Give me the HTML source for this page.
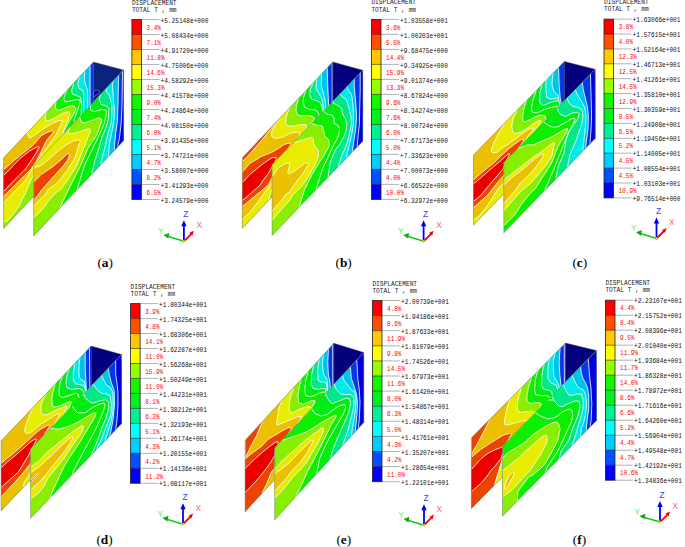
<!DOCTYPE html><html><head><meta charset="utf-8"><style>html,body{margin:0;padding:0;background:#fff;width:685px;height:547px;overflow:hidden}svg{position:absolute;left:0;top:0;display:block}.m{font-family:"Liberation Mono",monospace}.s{font-family:"Liberation Serif",serif}</style></head><body>
<svg width="685" height="547" viewBox="0 0 685 547">
<defs><clipPath id="cab"><polygon points="3.6,158 93.5,62 93.5,132.4 3.6,228.4"/></clipPath><clipPath id="caf"><polygon points="33.7,165.5 123.6,70 123.6,140.5 33.7,236"/></clipPath><clipPath id="cbb"><polygon points="242.4,157.8 332.9,61.9 332.9,132.4 242.4,228.3"/></clipPath><clipPath id="cbf"><polygon points="272.1,164.8 362.8,70.2 362.8,141 272.1,235.6"/></clipPath><clipPath id="ccb"><polygon points="473.5,155.1 564.4,61.4 564.4,131.4 473.5,225.1"/></clipPath><clipPath id="ccf"><polygon points="503.8,162.7 595.2,69.3 595.2,138.2 503.8,233"/></clipPath><clipPath id="cdb"><polygon points="1.1,441 91.3,346.1 91.3,415.9 1.1,510.8"/></clipPath><clipPath id="cdf"><polygon points="30.6,449 121.6,354.5 121.6,423.5 30.6,518.3"/></clipPath><clipPath id="ceb"><polygon points="245.1,440.5 334,343.3 334,415.8 245.1,511.7"/></clipPath><clipPath id="cef"><polygon points="274.7,447.9 363.8,352.4 363.8,422.3 274.7,519.9"/></clipPath><clipPath id="cfb"><polygon points="471.4,438 565.6,343 565.6,413.4 471.4,508.4"/></clipPath><clipPath id="cff"><polygon points="502.5,446 596.5,350.6 596.5,420.4 502.5,516.3"/></clipPath></defs>
<g clip-path="url(#cab)">
<polygon points="3.6,158 93.5,62 93.5,132.4 3.6,228.4" fill="#0EEE00"/>
<polygon points="-5,240 -5,90 56,90 56,101.3 55.4,106.4 56,109.6 59.2,110.2 65.6,107.7 70.7,105.8 73.4,105.8 75.6,107.5 76,109.5 74,113.5 71,118.5 68,123.5 65,129 55,150 45,175 35,240" fill="#8AEE00" stroke="#fff" stroke-width="0.85" stroke-opacity="0.95"/>
<polygon points="-5,235 -5,95 46.4,95 46.4,112.8 45.1,116.6 45.8,121.1 49.6,120.5 56,117.3 62.4,113.4 66.9,111.8 69.4,112.2 70.1,114.1 68.2,119.2 65.6,125.6 63.7,130.7 62.4,135 50,150 40,163 33,176 28.8,185 25,194.2 22.2,199 19.7,205 14.8,212.1 7.4,221.2 3.7,221.5 -5,222" fill="#E8EC00" stroke="#fff" stroke-width="0.85" stroke-opacity="0.95"/>
<polygon points="-5,212 -5,110 27.5,110 27.5,133 28.5,137.3 30.5,138 32.3,136.6 39.6,131.4 46.4,126.9 52.8,123 59.2,120.5 62.4,120.5 61.8,123 58.5,129.5 55.5,135.5 52,140.5 47,147.5 40,157 33,167 25,181 14,192 3.7,203 -5,212" fill="#EBC000" stroke="#fff" stroke-width="0.85" stroke-opacity="0.95"/>
<polygon points="-5,162 3.7,169.4 5.8,168 14.6,160 21.9,154.1 29.3,148.3 34.4,143.9 38,139.5 41.1,135.8 46.9,132.5 51,131 52.8,130.8 53.5,131.8 52.8,133 49.1,137.3 46.9,140 41,152 36,162 31,169 25,175.2 14,186.2 3.7,196.4 -5,205" fill="#EA4400" stroke="#fff" stroke-width="0.85" stroke-opacity="0.95"/>
<polygon points="-5,168 3.7,175.2 9.4,170 13,165.8 20,158.5 29.3,151.2 35,148 38.5,146.5 39.3,147.3 37.5,150 36.6,152 32.2,159.2 27,166.6 25,169.4 14,180.5 3.7,191.3 -5,200" fill="#EB0000" stroke="#fff" stroke-width="0.85" stroke-opacity="0.95"/>
<polygon points="67,50 67,90.5 64.6,95.6 63.9,99.3 65.4,102 71.9,100.5 77.8,99.5 79.8,100 80.2,102 79,106 77,112 74,120 80,140 100,140 100,50" fill="#00EC14" stroke="#fff" stroke-width="0.85" stroke-opacity="0.95"/>
<polygon points="73.3,50 73.3,85.1 71.6,90.9 72.5,94.2 77.4,95.8 80.5,97.4 81.5,103 81.3,112 80,125 100,125 100,50" fill="#00E887" stroke="#fff" stroke-width="0.85" stroke-opacity="0.95"/>
<polygon points="79,50 79,78.5 77.8,84.3 79,88.4 82.3,90 83.6,93.3 83.6,103 83.6,112 83,120 100,120 100,50" fill="#00EBE8" stroke="#fff" stroke-width="0.85" stroke-opacity="0.95"/>
<polygon points="84.8,50 84.8,70.3 84.4,78.5 84.8,82.7 87.3,89.2 87.7,95 87.7,110 100,110 100,50" fill="#00C2EB" stroke="#fff" stroke-width="0.85" stroke-opacity="0.95"/>
<polygon points="90.1,50 90.1,66 90.1,110 100,110 100,50" fill="#0438E8" stroke="#fff" stroke-width="0.85" stroke-opacity="0.95"/>
</g>
<polygon points="3.6,158 93.5,62 93.5,132.4 3.6,228.4" fill="none" stroke="#808590" stroke-width="0.55"/>
<polygon points="93.5,62 123.6,70 93.5,102" fill="#0B237D" stroke="#556" stroke-width="0.4"/>
<path d="M93.5,97 L93.5,92 Q94.5,89.5 97,90 Q99.5,90.5 100,92.5 Z" fill="#000490" stroke="#aab" stroke-width="0.5"/>
<g clip-path="url(#caf)">
<polygon points="33.7,165.5 123.6,70 123.6,140.5 33.7,236" fill="#0EEE00"/>
<polygon points="70,100 79.4,116.2 81.6,122.1 84.5,122.8 93.3,119.9 99.1,117.7 101.3,119.1 101.7,121.3 99.9,126.4 96.9,135 92,142 88.2,147.7 80.6,165.6 71.6,183.5 65.2,196.3 60.1,207.8 58,215 50,250 20,250 20,100" fill="#8AEE00" stroke="#fff" stroke-width="0.85" stroke-opacity="0.95"/>
<polygon points="20,240 20,120 60,118 70,127 68.4,131 69.1,133.9 74.3,133.2 80.1,131.7 86,129.4 89.5,128.8 90.6,131 88.5,136 84.4,146.4 76.7,165.6 67.8,179.6 61.4,188.6 53.6,195 48.3,201 44,207.3 38.2,213.9 33.7,217.2 20,225" fill="#E8EC00" stroke="#fff" stroke-width="0.85" stroke-opacity="0.95"/>
<polygon points="20,160 33.7,168.4 41,165.5 48,160 52,156.5 59.6,149.8 66.9,144.5 74.3,140.5 78.7,139.8 80.5,141.5 78.7,145 76.4,153.6 74.2,159.2 67.8,169.4 58.8,181 55,184.8 48.3,189.3 44.8,195 38.8,200.5 33.7,206.5 20,212" fill="#EBC000" stroke="#fff" stroke-width="0.85" stroke-opacity="0.95"/>
<polygon points="20,180 33.7,182 41,174.6 52,167.3 60,160.7 63,158 66,155 68.4,152.9 69.3,154.5 69,157 67.7,160 64,165 60,169.5 52,178.3 41,190.7 38.2,195 33.7,199.9 20,205" fill="#EA4400" stroke="#fff" stroke-width="0.85" stroke-opacity="0.95"/>
<polygon points="90.4,50 90.4,106 90.9,110.2 93.8,111.7 101.8,109.5 106.2,110.2 106.2,115.3 104,124.1 99.6,134.3 94.5,144.6 93,148 88.5,157 84.4,165.6 77.4,188.6 76,195 76,240 140,240 140,50" fill="#00EC14" stroke="#fff" stroke-width="0.85" stroke-opacity="0.95"/>
<polygon points="101.1,50 101.1,93.7 99.1,99.1 101.1,104.5 106.5,105.9 108.8,108.3 108.4,119 106.2,127 101.8,137.3 98.9,148 95,160 92,172 92,240 140,240 140,50" fill="#00E887" stroke="#fff" stroke-width="0.85" stroke-opacity="0.95"/>
<polygon points="107.9,50 107.9,84.2 105.9,91 109.2,95 111,101 112,108 111.3,122.6 108.4,132.1 104.7,148 101,162 101,240 140,240 140,50" fill="#00EBE8" stroke="#fff" stroke-width="0.85" stroke-opacity="0.95"/>
<polygon points="113.5,50 113.5,77 112.4,85.6 113,92.4 113.5,101.8 114.5,108 114,119 112.6,128.5 109.9,140.9 109.1,148 108,160 108,240 140,240 140,50" fill="#00C2EB" stroke="#fff" stroke-width="0.85" stroke-opacity="0.95"/>
<polygon points="118.7,50 118.7,74 118.3,90 117.9,108 117.2,122.6 115.7,133.6 114.3,148 114,240 140,240 140,50" fill="#0438E8" stroke="#fff" stroke-width="0.85" stroke-opacity="0.95"/>
<polygon points="122.5,50 122.5,72 122.3,90 121.9,108 121.2,122.6 119.4,138.7 117.9,144.6 117,240 140,240 140,50" fill="#0000DC" stroke="#fff" stroke-width="0.85" stroke-opacity="0.95"/>
</g>
<polygon points="33.7,165.5 123.6,70 123.6,140.5 33.7,236" fill="none" stroke="#808590" stroke-width="0.55"/>
<text class="m" x="131.9" y="4.5" font-size="6.6" fill="#1a1a1a" textLength="44.7" lengthAdjust="spacingAndGlyphs">DISPLACEMENT</text>
<text class="m" x="131.9" y="11.7" font-size="6.6" fill="#1a1a1a" textLength="44.7" lengthAdjust="spacingAndGlyphs">TOTAL T , mm</text>
<rect x="131.9" y="19.5" width="9.6" height="15" fill="#FF0000"/>
<rect x="131.9" y="34.5" width="9.6" height="15" fill="#FF5000"/>
<rect x="131.9" y="49.5" width="9.6" height="15" fill="#FFC800"/>
<rect x="131.9" y="64.5" width="9.6" height="15" fill="#FFFF00"/>
<rect x="131.9" y="79.5" width="9.6" height="15" fill="#96FF00"/>
<rect x="131.9" y="94.5" width="9.6" height="15" fill="#14F500"/>
<rect x="131.9" y="109.5" width="9.6" height="15" fill="#00F020"/>
<rect x="131.9" y="124.5" width="9.6" height="15" fill="#00F096"/>
<rect x="131.9" y="139.5" width="9.6" height="15" fill="#00FFFF"/>
<rect x="131.9" y="154.5" width="9.6" height="15" fill="#00CDFF"/>
<rect x="131.9" y="169.5" width="9.6" height="15" fill="#0050FF"/>
<rect x="131.9" y="184.5" width="9.6" height="15" fill="#0000FF"/>
<line x1="141.5" y1="19.5" x2="159.5" y2="19.5" stroke="#aaa" stroke-width="0.9"/>
<text class="m" x="160.5" y="22.6" font-size="6.6" fill="#111" textLength="47.9" lengthAdjust="spacingAndGlyphs">+5.25148e+000</text>
<line x1="141.5" y1="34.5" x2="159.5" y2="34.5" stroke="#aaa" stroke-width="0.9"/>
<line x1="131.9" y1="34.5" x2="141.5" y2="34.5" stroke="#300" stroke-width="0.8" stroke-opacity="0.7"/>
<text class="m" x="160.5" y="37.6" font-size="6.6" fill="#111" textLength="47.9" lengthAdjust="spacingAndGlyphs">+5.08434e+000</text>
<line x1="141.5" y1="49.5" x2="159.5" y2="49.5" stroke="#aaa" stroke-width="0.9"/>
<line x1="131.9" y1="49.5" x2="141.5" y2="49.5" stroke="#300" stroke-width="0.8" stroke-opacity="0.7"/>
<text class="m" x="160.5" y="52.6" font-size="6.6" fill="#111" textLength="47.9" lengthAdjust="spacingAndGlyphs">+4.91720e+000</text>
<line x1="141.5" y1="64.5" x2="159.5" y2="64.5" stroke="#aaa" stroke-width="0.9"/>
<line x1="131.9" y1="64.5" x2="141.5" y2="64.5" stroke="#300" stroke-width="0.8" stroke-opacity="0.7"/>
<text class="m" x="160.5" y="67.6" font-size="6.6" fill="#111" textLength="47.9" lengthAdjust="spacingAndGlyphs">+4.75006e+000</text>
<line x1="141.5" y1="79.5" x2="159.5" y2="79.5" stroke="#aaa" stroke-width="0.9"/>
<line x1="131.9" y1="79.5" x2="141.5" y2="79.5" stroke="#300" stroke-width="0.8" stroke-opacity="0.7"/>
<text class="m" x="160.5" y="82.6" font-size="6.6" fill="#111" textLength="47.9" lengthAdjust="spacingAndGlyphs">+4.58292e+000</text>
<line x1="141.5" y1="94.5" x2="159.5" y2="94.5" stroke="#aaa" stroke-width="0.9"/>
<line x1="131.9" y1="94.5" x2="141.5" y2="94.5" stroke="#300" stroke-width="0.8" stroke-opacity="0.7"/>
<text class="m" x="160.5" y="97.6" font-size="6.6" fill="#111" textLength="47.9" lengthAdjust="spacingAndGlyphs">+4.41578e+000</text>
<line x1="141.5" y1="109.5" x2="159.5" y2="109.5" stroke="#aaa" stroke-width="0.9"/>
<line x1="131.9" y1="109.5" x2="141.5" y2="109.5" stroke="#300" stroke-width="0.8" stroke-opacity="0.7"/>
<text class="m" x="160.5" y="112.6" font-size="6.6" fill="#111" textLength="47.9" lengthAdjust="spacingAndGlyphs">+4.24864e+000</text>
<line x1="141.5" y1="124.5" x2="159.5" y2="124.5" stroke="#aaa" stroke-width="0.9"/>
<line x1="131.9" y1="124.5" x2="141.5" y2="124.5" stroke="#300" stroke-width="0.8" stroke-opacity="0.7"/>
<text class="m" x="160.5" y="127.6" font-size="6.6" fill="#111" textLength="47.9" lengthAdjust="spacingAndGlyphs">+4.08150e+000</text>
<line x1="141.5" y1="139.5" x2="159.5" y2="139.5" stroke="#aaa" stroke-width="0.9"/>
<line x1="131.9" y1="139.5" x2="141.5" y2="139.5" stroke="#300" stroke-width="0.8" stroke-opacity="0.7"/>
<text class="m" x="160.5" y="142.6" font-size="6.6" fill="#111" textLength="47.9" lengthAdjust="spacingAndGlyphs">+3.91435e+000</text>
<line x1="141.5" y1="154.5" x2="159.5" y2="154.5" stroke="#aaa" stroke-width="0.9"/>
<line x1="131.9" y1="154.5" x2="141.5" y2="154.5" stroke="#300" stroke-width="0.8" stroke-opacity="0.7"/>
<text class="m" x="160.5" y="157.6" font-size="6.6" fill="#111" textLength="47.9" lengthAdjust="spacingAndGlyphs">+3.74721e+000</text>
<line x1="141.5" y1="169.5" x2="159.5" y2="169.5" stroke="#aaa" stroke-width="0.9"/>
<line x1="131.9" y1="169.5" x2="141.5" y2="169.5" stroke="#300" stroke-width="0.8" stroke-opacity="0.7"/>
<text class="m" x="160.5" y="172.6" font-size="6.6" fill="#111" textLength="47.9" lengthAdjust="spacingAndGlyphs">+3.58007e+000</text>
<line x1="141.5" y1="184.5" x2="159.5" y2="184.5" stroke="#aaa" stroke-width="0.9"/>
<line x1="131.9" y1="184.5" x2="141.5" y2="184.5" stroke="#300" stroke-width="0.8" stroke-opacity="0.7"/>
<text class="m" x="160.5" y="187.6" font-size="6.6" fill="#111" textLength="47.9" lengthAdjust="spacingAndGlyphs">+3.41293e+000</text>
<line x1="141.5" y1="199.5" x2="159.5" y2="199.5" stroke="#aaa" stroke-width="0.9"/>
<text class="m" x="160.5" y="202.6" font-size="6.6" fill="#111" textLength="47.9" lengthAdjust="spacingAndGlyphs">+3.24579e+000</text>
<text class="m" x="146.6" y="29.7" font-size="6.6" fill="#f00" textLength="14.3" lengthAdjust="spacingAndGlyphs">3.4%</text>
<text class="m" x="146.6" y="44.7" font-size="6.6" fill="#f00" textLength="14.3" lengthAdjust="spacingAndGlyphs">7.1%</text>
<text class="m" x="146.6" y="59.7" font-size="6.6" fill="#f00" textLength="17.9" lengthAdjust="spacingAndGlyphs">11.8%</text>
<text class="m" x="146.6" y="74.7" font-size="6.6" fill="#f00" textLength="17.9" lengthAdjust="spacingAndGlyphs">14.6%</text>
<text class="m" x="146.6" y="89.7" font-size="6.6" fill="#f00" textLength="17.9" lengthAdjust="spacingAndGlyphs">15.3%</text>
<text class="m" x="146.6" y="104.7" font-size="6.6" fill="#f00" textLength="14.3" lengthAdjust="spacingAndGlyphs">9.0%</text>
<text class="m" x="146.6" y="119.7" font-size="6.6" fill="#f00" textLength="14.3" lengthAdjust="spacingAndGlyphs">7.4%</text>
<text class="m" x="146.6" y="134.7" font-size="6.6" fill="#f00" textLength="14.3" lengthAdjust="spacingAndGlyphs">6.0%</text>
<text class="m" x="146.6" y="149.7" font-size="6.6" fill="#f00" textLength="14.3" lengthAdjust="spacingAndGlyphs">5.1%</text>
<text class="m" x="146.6" y="164.7" font-size="6.6" fill="#f00" textLength="14.3" lengthAdjust="spacingAndGlyphs">4.7%</text>
<text class="m" x="146.6" y="179.7" font-size="6.6" fill="#f00" textLength="14.3" lengthAdjust="spacingAndGlyphs">8.2%</text>
<text class="m" x="146.6" y="194.7" font-size="6.6" fill="#f00" textLength="14.3" lengthAdjust="spacingAndGlyphs">6.5%</text>
<rect x="131.9" y="19.5" width="9.6" height="180" fill="none" stroke="#222" stroke-width="0.8"/>
<g stroke-linecap="round">
<line x1="183.9" y1="241.3" x2="166.9" y2="236.1" stroke="#1c1" stroke-width="1.6"/>
<polygon points="163.4,235.1 169.4,232.9 168.3,238.5" fill="#1a1"/>
<line x1="183.9" y1="241.3" x2="183.9" y2="225.3" stroke="#00f" stroke-width="1.8"/>
<polygon points="183.9,220.3 181.2,226.3 186.6,226.3" fill="#00e"/>
<line x1="183.9" y1="241.3" x2="191.4" y2="233.8" stroke="#f00" stroke-width="1.8"/>
<polygon points="193.9,230.7 189.4,232.8 192.4,235.7" fill="#f00"/>
<circle cx="183.9" cy="241.3" r="1.3" fill="#dd0"/>
</g>
<text x="183.3" y="216.8" font-family="Liberation Sans" font-size="8.3" fill="#3344ee">Z</text>
<text x="196.5" y="227.9" font-family="Liberation Sans" font-size="8.3" fill="#ff6666">X</text>
<text x="158.3" y="234.1" font-family="Liberation Sans" font-size="8.3" fill="#66ee66">Y</text>
<text class="s" x="97.4" y="266.9" font-size="13.3" fill="#000">(<tspan font-weight="bold">a</tspan>)</text>
<g clip-path="url(#cbb)">
<polygon points="242.4,157.8 332.9,61.9 332.9,132.4 242.4,228.3" fill="#0EEE00"/>
<polygon points="230,240 230,90 298.5,90 298.5,98.5 296.5,105.8 296,111 297.5,114.5 300.2,116 305,115.5 309.6,115.5 313,116.5 314.5,118.5 313,121 300,140 285,170 270,240" fill="#8AEE00" stroke="#fff" stroke-width="0.85" stroke-opacity="0.95"/>
<polygon points="230,240 230,95 289.2,95 289.2,108.5 286.3,117.3 285.6,123.2 287.7,126.1 293.6,126.1 300.9,124.6 306,124.6 306.8,126.8 304.6,131.2 299.4,139.3 295.1,146.6 292.1,150 280,170 270,195 260,240" fill="#E8EC00" stroke="#fff" stroke-width="0.85" stroke-opacity="0.95"/>
<polygon points="230,100 280,100 280,118 275.3,124.6 271.7,131.9 271.7,136.3 275.3,138.5 282.6,137.1 289.9,133.4 297.3,131.9 300.2,134.1 297.3,139.3 293.6,144.4 289.9,150 281,165 271.9,183 265,192 258,202 250,212 242.4,219.5 230,225" fill="#EBC000" stroke="#fff" stroke-width="0.85" stroke-opacity="0.95"/>
<polygon points="230,150 242.4,157.8 242.4,161.7 250,153.5 258,144.5 265,136 271,128.5 275,123 275,110 230,110" fill="#EA4400" stroke="#fff" stroke-width="0.85" stroke-opacity="0.95"/>
<polygon points="230,175 242.4,172 250,163.3 261,156.7 271.9,152.3 279.3,147.9 284,144.5 289.9,142.9 290.8,144.2 288,148.5 282,158 276,170 271.9,178 268.3,185 255,196 242.4,206.5 230,215" fill="#EA4400" stroke="#fff" stroke-width="0.85" stroke-opacity="0.95"/>
<polygon points="230,190 242.4,182.5 250,174.3 257.3,168.4 264.6,162.6 271.9,157.8 276,157.5 276.5,158.5 274.9,161.8 271.9,167 268.3,173.5 263.2,180.1 260.2,185 250,194 242.4,200.5 230,210" fill="#EB0000" stroke="#fff" stroke-width="0.85" stroke-opacity="0.95"/>
<polygon points="306,60 306,90.4 303.8,96.3 303,102.1 304.5,107.3 309.6,109.4 316.2,110.2 318.4,113.1 319.5,117 320,140 340,140 340,60" fill="#00EC14" stroke="#fff" stroke-width="0.85" stroke-opacity="0.95"/>
<polygon points="314,60 314,81.7 310.4,89 309.6,94.8 311.8,99.2 316.9,100.7 320.6,102.9 322.1,107.3 323,111 323.5,130 340,130 340,60" fill="#00E887" stroke="#fff" stroke-width="0.85" stroke-opacity="0.95"/>
<polygon points="317,60 317,78.5 316.2,83.9 316.2,89 318.4,92.6 320.6,96.3 322.1,99.9 323.5,107.3 324.5,112 325,130 340,130 340,60" fill="#00EBE8" stroke="#fff" stroke-width="0.85" stroke-opacity="0.95"/>
<polygon points="321.5,60 321.5,74 321.3,85.3 323,92 325,99.9 325.7,105.8 326,112 340,112 340,60" fill="#00C2EB" stroke="#fff" stroke-width="0.85" stroke-opacity="0.95"/>
<polygon points="327.3,50 327.3,70 327.6,80 327.9,89 328.4,100 328.6,108 340,108 340,50" fill="#0438E8" stroke="#fff" stroke-width="0.85" stroke-opacity="0.95"/>
<polygon points="332.2,50 332.2,110 340,110 340,50" fill="#0000DC" stroke="#fff" stroke-width="0.85" stroke-opacity="0.95"/>
</g>
<polygon points="242.4,157.8 332.9,61.9 332.9,132.4 242.4,228.3" fill="none" stroke="#808590" stroke-width="0.55"/>
<polygon points="332.9,61.9 362.8,70.2 332.9,101.4" fill="#05007E" stroke="#556" stroke-width="0.4"/>
<g clip-path="url(#cbf)">
<polygon points="272.1,164.8 362.8,70.2 362.8,141 272.1,235.6" fill="#0EEE00"/>
<polygon points="290,120 311.5,120 311.5,123.5 317.3,125.3 322.4,126 323.2,128 323.6,130.9 325.1,136.7 328.8,139.6 329.5,145.5 326.6,150.6 322.9,157.2 319.7,161.7 312.1,174.5 304.4,189.9 299.3,206.5 298.9,210 290,250 260,250 260,120" fill="#8AEE00" stroke="#fff" stroke-width="0.85" stroke-opacity="0.95"/>
<polygon points="260,250 260,130 294.4,130 294.4,142.6 301,140.4 308.3,138.2 311.9,137.4 313.4,139.6 313.4,144 316.3,147.7 318.5,150.6 318.5,155.7 317,160.1 314.6,165.6 308.2,177.1 301.8,186 297.5,190.5 292.7,195 289.9,200 280,211 272.5,219.7 265,225" fill="#E8EC00" stroke="#fff" stroke-width="0.85" stroke-opacity="0.95"/>
<polygon points="260,180 272.1,176.5 279,167.3 287,162.9 289.9,163.7 288.5,169.5 287.7,172.4 289.2,173.9 293.6,171.7 298.7,168 304.6,163.7 307.5,162.6 308.7,163.8 305,170 302,175 298,179.5 289.9,191.4 285.3,195 282.6,199 272.5,210.6 260,215" fill="#EBC000" stroke="#fff" stroke-width="0.85" stroke-opacity="0.95"/>
<polygon points="323.4,100 323.4,111 326.8,114 332.5,115.3 334.1,118.5 334.1,123.3 338.1,125.7 339.7,129 338.9,133.8 336.5,140.2 334,144 330,152.8 322.3,169.4 315.9,189.9 315,200 370,200 370,100" fill="#00EC14" stroke="#fff" stroke-width="0.85" stroke-opacity="0.95"/>
<polygon points="333,90 333,103 338.1,105.6 341.3,108 342.9,114.5 345.3,118.5 346.9,123.3 346.1,130.6 343.7,137 340,144 335.1,150.2 330,163 328.1,177.1 327,185 370,185 370,90" fill="#00E887" stroke="#fff" stroke-width="0.85" stroke-opacity="0.95"/>
<polygon points="340.4,80 340.4,94.3 341.8,96.4 345.5,98.6 347,101.6 348.5,106 350,112 351,116.1 351.4,124.1 349.4,133.8 346.9,144 342,155 338,167 338,180 370,180 370,80" fill="#00EBE8" stroke="#fff" stroke-width="0.85" stroke-opacity="0.95"/>
<polygon points="347,75 347,86.9 349.1,91.3 351.3,94.3 352.1,97.9 352.8,104 353.4,112.1 353.4,124.1 351.8,133.8 349.4,144 346,160 370,160 370,75" fill="#00C2EB" stroke="#fff" stroke-width="0.85" stroke-opacity="0.95"/>
<polygon points="354.3,70 354.3,78.5 354.3,86.9 355,94.3 355.7,102 356.6,116.1 355.8,128.2 353.4,144 352,155 370,155 370,70" fill="#0438E8" stroke="#fff" stroke-width="0.85" stroke-opacity="0.95"/>
<polygon points="360.2,60 360.2,72.3 360.2,90 359.8,105 359.4,124.1 358.2,135.4 357.4,144 357,155 370,155 370,60" fill="#0000DC" stroke="#fff" stroke-width="0.85" stroke-opacity="0.95"/>
</g>
<polygon points="272.1,164.8 362.8,70.2 362.8,141 272.1,235.6" fill="none" stroke="#808590" stroke-width="0.55"/>
<text class="m" x="371.4" y="4.4" font-size="6.6" fill="#1a1a1a" textLength="44.7" lengthAdjust="spacingAndGlyphs">DISPLACEMENT</text>
<text class="m" x="371.4" y="11.6" font-size="6.6" fill="#1a1a1a" textLength="44.7" lengthAdjust="spacingAndGlyphs">TOTAL T , mm</text>
<rect x="371.4" y="19.4" width="9.6" height="15" fill="#FF0000"/>
<rect x="371.4" y="34.4" width="9.6" height="15" fill="#FF5000"/>
<rect x="371.4" y="49.4" width="9.6" height="15" fill="#FFC800"/>
<rect x="371.4" y="64.4" width="9.6" height="15" fill="#FFFF00"/>
<rect x="371.4" y="79.4" width="9.6" height="15" fill="#96FF00"/>
<rect x="371.4" y="94.4" width="9.6" height="15" fill="#14F500"/>
<rect x="371.4" y="109.4" width="9.6" height="15" fill="#00F020"/>
<rect x="371.4" y="124.4" width="9.6" height="15" fill="#00F096"/>
<rect x="371.4" y="139.4" width="9.6" height="15" fill="#00FFFF"/>
<rect x="371.4" y="154.4" width="9.6" height="15" fill="#00CDFF"/>
<rect x="371.4" y="169.4" width="9.6" height="15" fill="#0050FF"/>
<rect x="371.4" y="184.4" width="9.6" height="15" fill="#0000FF"/>
<line x1="381" y1="19.4" x2="399" y2="19.4" stroke="#aaa" stroke-width="0.9"/>
<text class="m" x="400" y="22.5" font-size="6.6" fill="#111" textLength="47.9" lengthAdjust="spacingAndGlyphs">+1.03558e+001</text>
<line x1="381" y1="34.4" x2="399" y2="34.4" stroke="#aaa" stroke-width="0.9"/>
<line x1="371.4" y1="34.4" x2="381" y2="34.4" stroke="#300" stroke-width="0.8" stroke-opacity="0.7"/>
<text class="m" x="400" y="37.5" font-size="6.6" fill="#111" textLength="47.9" lengthAdjust="spacingAndGlyphs">+1.00203e+001</text>
<line x1="381" y1="49.4" x2="399" y2="49.4" stroke="#aaa" stroke-width="0.9"/>
<line x1="371.4" y1="49.4" x2="381" y2="49.4" stroke="#300" stroke-width="0.8" stroke-opacity="0.7"/>
<text class="m" x="400" y="52.5" font-size="6.6" fill="#111" textLength="47.9" lengthAdjust="spacingAndGlyphs">+9.68475e+000</text>
<line x1="381" y1="64.4" x2="399" y2="64.4" stroke="#aaa" stroke-width="0.9"/>
<line x1="371.4" y1="64.4" x2="381" y2="64.4" stroke="#300" stroke-width="0.8" stroke-opacity="0.7"/>
<text class="m" x="400" y="67.5" font-size="6.6" fill="#111" textLength="47.9" lengthAdjust="spacingAndGlyphs">+9.34925e+000</text>
<line x1="381" y1="79.4" x2="399" y2="79.4" stroke="#aaa" stroke-width="0.9"/>
<line x1="371.4" y1="79.4" x2="381" y2="79.4" stroke="#300" stroke-width="0.8" stroke-opacity="0.7"/>
<text class="m" x="400" y="82.5" font-size="6.6" fill="#111" textLength="47.9" lengthAdjust="spacingAndGlyphs">+9.01374e+000</text>
<line x1="381" y1="94.4" x2="399" y2="94.4" stroke="#aaa" stroke-width="0.9"/>
<line x1="371.4" y1="94.4" x2="381" y2="94.4" stroke="#300" stroke-width="0.8" stroke-opacity="0.7"/>
<text class="m" x="400" y="97.5" font-size="6.6" fill="#111" textLength="47.9" lengthAdjust="spacingAndGlyphs">+8.67824e+000</text>
<line x1="381" y1="109.4" x2="399" y2="109.4" stroke="#aaa" stroke-width="0.9"/>
<line x1="371.4" y1="109.4" x2="381" y2="109.4" stroke="#300" stroke-width="0.8" stroke-opacity="0.7"/>
<text class="m" x="400" y="112.5" font-size="6.6" fill="#111" textLength="47.9" lengthAdjust="spacingAndGlyphs">+8.34274e+000</text>
<line x1="381" y1="124.4" x2="399" y2="124.4" stroke="#aaa" stroke-width="0.9"/>
<line x1="371.4" y1="124.4" x2="381" y2="124.4" stroke="#300" stroke-width="0.8" stroke-opacity="0.7"/>
<text class="m" x="400" y="127.5" font-size="6.6" fill="#111" textLength="47.9" lengthAdjust="spacingAndGlyphs">+8.00724e+000</text>
<line x1="381" y1="139.4" x2="399" y2="139.4" stroke="#aaa" stroke-width="0.9"/>
<line x1="371.4" y1="139.4" x2="381" y2="139.4" stroke="#300" stroke-width="0.8" stroke-opacity="0.7"/>
<text class="m" x="400" y="142.5" font-size="6.6" fill="#111" textLength="47.9" lengthAdjust="spacingAndGlyphs">+7.67173e+000</text>
<line x1="381" y1="154.4" x2="399" y2="154.4" stroke="#aaa" stroke-width="0.9"/>
<line x1="371.4" y1="154.4" x2="381" y2="154.4" stroke="#300" stroke-width="0.8" stroke-opacity="0.7"/>
<text class="m" x="400" y="157.5" font-size="6.6" fill="#111" textLength="47.9" lengthAdjust="spacingAndGlyphs">+7.33623e+000</text>
<line x1="381" y1="169.4" x2="399" y2="169.4" stroke="#aaa" stroke-width="0.9"/>
<line x1="371.4" y1="169.4" x2="381" y2="169.4" stroke="#300" stroke-width="0.8" stroke-opacity="0.7"/>
<text class="m" x="400" y="172.5" font-size="6.6" fill="#111" textLength="47.9" lengthAdjust="spacingAndGlyphs">+7.00073e+000</text>
<line x1="381" y1="184.4" x2="399" y2="184.4" stroke="#aaa" stroke-width="0.9"/>
<line x1="371.4" y1="184.4" x2="381" y2="184.4" stroke="#300" stroke-width="0.8" stroke-opacity="0.7"/>
<text class="m" x="400" y="187.5" font-size="6.6" fill="#111" textLength="47.9" lengthAdjust="spacingAndGlyphs">+6.66522e+000</text>
<line x1="381" y1="199.4" x2="399" y2="199.4" stroke="#aaa" stroke-width="0.9"/>
<text class="m" x="400" y="202.5" font-size="6.6" fill="#111" textLength="47.9" lengthAdjust="spacingAndGlyphs">+6.32972e+000</text>
<text class="m" x="386.1" y="29.6" font-size="6.6" fill="#f00" textLength="14.3" lengthAdjust="spacingAndGlyphs">3.6%</text>
<text class="m" x="386.1" y="44.6" font-size="6.6" fill="#f00" textLength="14.3" lengthAdjust="spacingAndGlyphs">5.5%</text>
<text class="m" x="386.1" y="59.6" font-size="6.6" fill="#f00" textLength="17.9" lengthAdjust="spacingAndGlyphs">14.4%</text>
<text class="m" x="386.1" y="74.6" font-size="6.6" fill="#f00" textLength="17.9" lengthAdjust="spacingAndGlyphs">15.9%</text>
<text class="m" x="386.1" y="89.6" font-size="6.6" fill="#f00" textLength="17.9" lengthAdjust="spacingAndGlyphs">13.3%</text>
<text class="m" x="386.1" y="104.6" font-size="6.6" fill="#f00" textLength="14.3" lengthAdjust="spacingAndGlyphs">9.6%</text>
<text class="m" x="386.1" y="119.6" font-size="6.6" fill="#f00" textLength="14.3" lengthAdjust="spacingAndGlyphs">7.6%</text>
<text class="m" x="386.1" y="134.6" font-size="6.6" fill="#f00" textLength="14.3" lengthAdjust="spacingAndGlyphs">6.0%</text>
<text class="m" x="386.1" y="149.6" font-size="6.6" fill="#f00" textLength="14.3" lengthAdjust="spacingAndGlyphs">5.0%</text>
<text class="m" x="386.1" y="164.6" font-size="6.6" fill="#f00" textLength="14.3" lengthAdjust="spacingAndGlyphs">4.4%</text>
<text class="m" x="386.1" y="179.6" font-size="6.6" fill="#f00" textLength="14.3" lengthAdjust="spacingAndGlyphs">4.0%</text>
<text class="m" x="386.1" y="194.6" font-size="6.6" fill="#f00" textLength="17.9" lengthAdjust="spacingAndGlyphs">10.0%</text>
<rect x="371.4" y="19.4" width="9.6" height="180" fill="none" stroke="#222" stroke-width="0.8"/>
<g stroke-linecap="round">
<line x1="423.6" y1="241.3" x2="406.6" y2="236.1" stroke="#1c1" stroke-width="1.6"/>
<polygon points="403.1,235.1 409.1,232.9 408,238.5" fill="#1a1"/>
<line x1="423.6" y1="241.3" x2="423.6" y2="225.3" stroke="#00f" stroke-width="1.8"/>
<polygon points="423.6,220.3 420.9,226.3 426.3,226.3" fill="#00e"/>
<line x1="423.6" y1="241.3" x2="431.1" y2="233.8" stroke="#f00" stroke-width="1.8"/>
<polygon points="433.6,230.7 429.1,232.8 432.1,235.7" fill="#f00"/>
<circle cx="423.6" cy="241.3" r="1.3" fill="#dd0"/>
</g>
<text x="423" y="216.8" font-family="Liberation Sans" font-size="8.3" fill="#3344ee">Z</text>
<text x="436.2" y="227.9" font-family="Liberation Sans" font-size="8.3" fill="#ff6666">X</text>
<text x="398" y="234.1" font-family="Liberation Sans" font-size="8.3" fill="#66ee66">Y</text>
<text class="s" x="335.5" y="266.9" font-size="13.3" fill="#000">(<tspan font-weight="bold">b</tspan>)</text>
<g clip-path="url(#ccb)">
<polygon points="473.5,155.1 564.4,61.4 564.4,131.4 473.5,225.1" fill="#0EEE00"/>
<polygon points="465,240 465,90 526.4,90 526.4,101 524.3,107.3 522.8,114.6 522.8,120.5 524.3,121.9 530.1,119.7 535,116.8 541,115 545,116 546,118.5 540,128 525,155 505,240" fill="#8AEE00" stroke="#fff" stroke-width="0.85" stroke-opacity="0.95"/>
<polygon points="465,240 465,100 517,100 517,110.5 513.3,118.3 511.8,125.6 512.6,131.4 515.5,133.6 520.6,132.2 527.9,127.8 535,122.7 539,120.5 541.2,120.8 540.5,123 535,130 520,155 505,200 495,240" fill="#E8EC00" stroke="#fff" stroke-width="0.85" stroke-opacity="0.95"/>
<polygon points="465,222 465,110 504.6,110 504.6,123.5 498.7,133.2 494.3,141.9 491.4,149.3 491.6,152 493,153 497.3,152.2 502,147.9 508.4,144.1 514.8,139.3 521.2,134.5 527.6,130 531,128 533.2,128.3 532.5,131 528,136 515,160 503.1,183.5 497.3,190 492.1,198.8 486.3,206.8 479,216.3 473.9,219.3" fill="#EBC000" stroke="#fff" stroke-width="0.85" stroke-opacity="0.95"/>
<polygon points="465,185 473.5,179.9 482.6,171.8 493.6,163 500.9,156 508.4,149.2 514.8,144.1 521.2,139.6 523.3,139.4 523.5,141 520,146 512,160 503.1,176.2 497.3,182.8 487.7,195 473.9,207.2 465,214" fill="#EA4400" stroke="#fff" stroke-width="0.85" stroke-opacity="0.95"/>
<polygon points="465,190 473.5,183.9 482.6,176.2 493.6,166.7 502,159.5 507,155 509.3,153.4 509,155.5 506,161 503.1,168.9 498.7,174 489.9,184.3 481.2,195 473.9,201 465,208" fill="#EB0000" stroke="#fff" stroke-width="0.85" stroke-opacity="0.95"/>
<polygon points="536.5,60 536.5,90 535.7,91.9 533,100.1 531.6,107.4 532.1,112 536.6,112.9 544.9,109.3 551.3,107.4 556,106.5 560,106 580,106 580,60" fill="#00EC14" stroke="#fff" stroke-width="0.85" stroke-opacity="0.95"/>
<polygon points="542.3,60 542.3,84.5 541.7,85.5 539.8,93.7 539.8,102.9 543,105.6 549.4,102.9 556,101 562,100 580,100 580,60" fill="#00E887" stroke="#fff" stroke-width="0.85" stroke-opacity="0.95"/>
<polygon points="548,60 548,78.8 546.2,80 545.8,89.1 546.7,97.4 551.3,99.2 556,98.3 562,97.5 580,97.5 580,60" fill="#00EBE8" stroke="#fff" stroke-width="0.85" stroke-opacity="0.95"/>
<polygon points="553.3,60 553.3,72 552.3,80 552,85 554,92 557.9,95 558.8,100 559.6,104.8 560,112 580,112 580,60" fill="#00C2EB" stroke="#fff" stroke-width="0.85" stroke-opacity="0.95"/>
<polygon points="558.6,55 558.6,68 559.2,85 560.2,98 561.2,103 561.5,112 580,112 580,55" fill="#0438E8" stroke="#fff" stroke-width="0.85" stroke-opacity="0.95"/>
</g>
<polygon points="473.5,155.1 564.4,61.4 564.4,131.4 473.5,225.1" fill="none" stroke="#808590" stroke-width="0.55"/>
<polygon points="564.4,61.4 595.2,69.3 564.4,100.8" fill="#05007E" stroke="#556" stroke-width="0.4"/>
<g clip-path="url(#ccf)">
<polygon points="503.8,162.7 595.2,69.3 595.2,138.2 503.8,233" fill="#0EEE00"/>
<polygon points="495,140 518.6,140 518.6,148.3 523.1,146.6 527.6,144.7 532.3,145.1 539.6,142.1 546.9,139.2 554.3,135.6 561.2,131.3 567,128.4 568,129 566.2,132.9 561.2,141.1 558.8,145 556,151.6 552,162 546,172 540,181 535,189 530.5,193 522.2,203.2 514.8,214.7 504.1,225.4 495,230" fill="#8AEE00" stroke="#fff" stroke-width="0.85" stroke-opacity="0.95"/>
<polygon points="495,180 503.8,180 512,173.5 520,167.5 527.3,161.5 534.6,156 541.9,151.5 547,147 551,144.5 553.8,142.3 554.8,143.2 553.5,147 552,156 545.6,165.5 538.3,174.3 531,183 522.2,190 513,200 504.1,210.6 495,212" fill="#E8EC00" stroke="#fff" stroke-width="0.85" stroke-opacity="0.95"/>
<polygon points="495,185 503.8,185 512,177.5 520,171.3 527.3,165.5 534.6,158.9 541.2,154.5 543.4,153.8 543.8,155 543.4,156 538.3,164 531,172.8 523.7,180.1 520,183 515.6,190 510,196.5 504.1,203.2 495,205" fill="#EBC000" stroke="#fff" stroke-width="0.85" stroke-opacity="0.95"/>
<polygon points="544,100 544,122 546.9,124.6 552.8,127.3 557.9,126.8 565.3,122.5 571,119 574.5,118.3 575,120 572,126 568,133 566.3,138 559.5,155 552.7,172 547,185 544.7,190 544,200 610,200 610,100" fill="#00EC14" stroke="#fff" stroke-width="0.85" stroke-opacity="0.95"/>
<polygon points="557.5,95 557.5,109.5 560,114 565.3,116.5 572,113 577.7,112.3 579.3,114 577.7,118.9 573.6,124.7 569,132 566,140 564,152.7 558.3,166.3 556.1,177.7 556,190 610,190 610,95" fill="#00E887" stroke="#fff" stroke-width="0.85" stroke-opacity="0.95"/>
<polygon points="567.3,85 567.3,99 569.4,103.6 573,106.5 578,107.5 582,109.5 583,116 581.5,124.7 578.5,133 575.5,142 569.7,155 567.4,168 567,180 610,180 610,85" fill="#00EBE8" stroke="#fff" stroke-width="0.85" stroke-opacity="0.95"/>
<polygon points="575.4,75 575.4,89.9 577.2,94.3 579.8,98.7 582.5,103.2 585,108.2 586,116.4 585.5,127.1 584.3,137 583.4,145 582,160 610,160 610,75" fill="#00C2EB" stroke="#fff" stroke-width="0.85" stroke-opacity="0.95"/>
<polygon points="582,70 582,80 583.3,89.9 585.5,98.7 587.5,107.5 588.4,116.4 588,128.8 585.9,145 585,160 610,160 610,70" fill="#0438E8" stroke="#fff" stroke-width="0.85" stroke-opacity="0.95"/>
<polygon points="590.5,60 590.5,76 591,94 591.5,110 591.5,120.6 590.8,132.9 590,142.8 590,160 610,160 610,60" fill="#0000DC" stroke="#fff" stroke-width="0.85" stroke-opacity="0.95"/>
</g>
<polygon points="503.8,162.7 595.2,69.3 595.2,138.2 503.8,233" fill="none" stroke="#808590" stroke-width="0.55"/>
<text class="m" x="604" y="4.1" font-size="6.6" fill="#1a1a1a" textLength="44.7" lengthAdjust="spacingAndGlyphs">DISPLACEMENT</text>
<text class="m" x="604" y="11.3" font-size="6.6" fill="#1a1a1a" textLength="44.7" lengthAdjust="spacingAndGlyphs">TOTAL T , mm</text>
<rect x="604" y="19.1" width="9.6" height="14.9" fill="#FF0000"/>
<rect x="604" y="34" width="9.6" height="14.9" fill="#FF5000"/>
<rect x="604" y="48.9" width="9.6" height="14.9" fill="#FFC800"/>
<rect x="604" y="63.8" width="9.6" height="14.9" fill="#FFFF00"/>
<rect x="604" y="78.7" width="9.6" height="14.9" fill="#96FF00"/>
<rect x="604" y="93.6" width="9.6" height="14.9" fill="#14F500"/>
<rect x="604" y="108.5" width="9.6" height="14.9" fill="#00F020"/>
<rect x="604" y="123.4" width="9.6" height="14.9" fill="#00F096"/>
<rect x="604" y="138.3" width="9.6" height="14.9" fill="#00FFFF"/>
<rect x="604" y="153.2" width="9.6" height="14.9" fill="#00CDFF"/>
<rect x="604" y="168.1" width="9.6" height="14.9" fill="#0050FF"/>
<rect x="604" y="183" width="9.6" height="14.9" fill="#0000FF"/>
<line x1="613.6" y1="19.1" x2="631.6" y2="19.1" stroke="#aaa" stroke-width="0.9"/>
<text class="m" x="632.6" y="22.2" font-size="6.6" fill="#111" textLength="47.9" lengthAdjust="spacingAndGlyphs">+1.63066e+001</text>
<line x1="613.6" y1="34" x2="631.6" y2="34" stroke="#aaa" stroke-width="0.9"/>
<line x1="604" y1="34" x2="613.6" y2="34" stroke="#300" stroke-width="0.8" stroke-opacity="0.7"/>
<text class="m" x="632.6" y="37.1" font-size="6.6" fill="#111" textLength="47.9" lengthAdjust="spacingAndGlyphs">+1.57615e+001</text>
<line x1="613.6" y1="48.9" x2="631.6" y2="48.9" stroke="#aaa" stroke-width="0.9"/>
<line x1="604" y1="48.9" x2="613.6" y2="48.9" stroke="#300" stroke-width="0.8" stroke-opacity="0.7"/>
<text class="m" x="632.6" y="52" font-size="6.6" fill="#111" textLength="47.9" lengthAdjust="spacingAndGlyphs">+1.52164e+001</text>
<line x1="613.6" y1="63.8" x2="631.6" y2="63.8" stroke="#aaa" stroke-width="0.9"/>
<line x1="604" y1="63.8" x2="613.6" y2="63.8" stroke="#300" stroke-width="0.8" stroke-opacity="0.7"/>
<text class="m" x="632.6" y="66.9" font-size="6.6" fill="#111" textLength="47.9" lengthAdjust="spacingAndGlyphs">+1.46713e+001</text>
<line x1="613.6" y1="78.7" x2="631.6" y2="78.7" stroke="#aaa" stroke-width="0.9"/>
<line x1="604" y1="78.7" x2="613.6" y2="78.7" stroke="#300" stroke-width="0.8" stroke-opacity="0.7"/>
<text class="m" x="632.6" y="81.8" font-size="6.6" fill="#111" textLength="47.9" lengthAdjust="spacingAndGlyphs">+1.41261e+001</text>
<line x1="613.6" y1="93.6" x2="631.6" y2="93.6" stroke="#aaa" stroke-width="0.9"/>
<line x1="604" y1="93.6" x2="613.6" y2="93.6" stroke="#300" stroke-width="0.8" stroke-opacity="0.7"/>
<text class="m" x="632.6" y="96.7" font-size="6.6" fill="#111" textLength="47.9" lengthAdjust="spacingAndGlyphs">+1.35810e+001</text>
<line x1="613.6" y1="108.5" x2="631.6" y2="108.5" stroke="#aaa" stroke-width="0.9"/>
<line x1="604" y1="108.5" x2="613.6" y2="108.5" stroke="#300" stroke-width="0.8" stroke-opacity="0.7"/>
<text class="m" x="632.6" y="111.6" font-size="6.6" fill="#111" textLength="47.9" lengthAdjust="spacingAndGlyphs">+1.30359e+001</text>
<line x1="613.6" y1="123.4" x2="631.6" y2="123.4" stroke="#aaa" stroke-width="0.9"/>
<line x1="604" y1="123.4" x2="613.6" y2="123.4" stroke="#300" stroke-width="0.8" stroke-opacity="0.7"/>
<text class="m" x="632.6" y="126.5" font-size="6.6" fill="#111" textLength="47.9" lengthAdjust="spacingAndGlyphs">+1.24908e+001</text>
<line x1="613.6" y1="138.3" x2="631.6" y2="138.3" stroke="#aaa" stroke-width="0.9"/>
<line x1="604" y1="138.3" x2="613.6" y2="138.3" stroke="#300" stroke-width="0.8" stroke-opacity="0.7"/>
<text class="m" x="632.6" y="141.4" font-size="6.6" fill="#111" textLength="47.9" lengthAdjust="spacingAndGlyphs">+1.19456e+001</text>
<line x1="613.6" y1="153.2" x2="631.6" y2="153.2" stroke="#aaa" stroke-width="0.9"/>
<line x1="604" y1="153.2" x2="613.6" y2="153.2" stroke="#300" stroke-width="0.8" stroke-opacity="0.7"/>
<text class="m" x="632.6" y="156.3" font-size="6.6" fill="#111" textLength="47.9" lengthAdjust="spacingAndGlyphs">+1.14005e+001</text>
<line x1="613.6" y1="168.1" x2="631.6" y2="168.1" stroke="#aaa" stroke-width="0.9"/>
<line x1="604" y1="168.1" x2="613.6" y2="168.1" stroke="#300" stroke-width="0.8" stroke-opacity="0.7"/>
<text class="m" x="632.6" y="171.2" font-size="6.6" fill="#111" textLength="47.9" lengthAdjust="spacingAndGlyphs">+1.08554e+001</text>
<line x1="613.6" y1="183" x2="631.6" y2="183" stroke="#aaa" stroke-width="0.9"/>
<line x1="604" y1="183" x2="613.6" y2="183" stroke="#300" stroke-width="0.8" stroke-opacity="0.7"/>
<text class="m" x="632.6" y="186.1" font-size="6.6" fill="#111" textLength="47.9" lengthAdjust="spacingAndGlyphs">+1.03103e+001</text>
<line x1="613.6" y1="197.9" x2="631.6" y2="197.9" stroke="#aaa" stroke-width="0.9"/>
<text class="m" x="632.6" y="201" font-size="6.6" fill="#111" textLength="47.9" lengthAdjust="spacingAndGlyphs">+9.76514e+000</text>
<text class="m" x="618.7" y="29.2" font-size="6.6" fill="#f00" textLength="14.3" lengthAdjust="spacingAndGlyphs">3.8%</text>
<text class="m" x="618.7" y="44.2" font-size="6.6" fill="#f00" textLength="14.3" lengthAdjust="spacingAndGlyphs">4.0%</text>
<text class="m" x="618.7" y="59.1" font-size="6.6" fill="#f00" textLength="17.9" lengthAdjust="spacingAndGlyphs">12.3%</text>
<text class="m" x="618.7" y="74" font-size="6.6" fill="#f00" textLength="17.9" lengthAdjust="spacingAndGlyphs">12.5%</text>
<text class="m" x="618.7" y="88.9" font-size="6.6" fill="#f00" textLength="17.9" lengthAdjust="spacingAndGlyphs">14.5%</text>
<text class="m" x="618.7" y="103.8" font-size="6.6" fill="#f00" textLength="17.9" lengthAdjust="spacingAndGlyphs">12.9%</text>
<text class="m" x="618.7" y="118.7" font-size="6.6" fill="#f00" textLength="14.3" lengthAdjust="spacingAndGlyphs">8.5%</text>
<text class="m" x="618.7" y="133.5" font-size="6.6" fill="#f00" textLength="14.3" lengthAdjust="spacingAndGlyphs">6.5%</text>
<text class="m" x="618.7" y="148.4" font-size="6.6" fill="#f00" textLength="14.3" lengthAdjust="spacingAndGlyphs">5.2%</text>
<text class="m" x="618.7" y="163.3" font-size="6.6" fill="#f00" textLength="14.3" lengthAdjust="spacingAndGlyphs">4.5%</text>
<text class="m" x="618.7" y="178.2" font-size="6.6" fill="#f00" textLength="14.3" lengthAdjust="spacingAndGlyphs">4.5%</text>
<text class="m" x="618.7" y="193.1" font-size="6.6" fill="#f00" textLength="17.9" lengthAdjust="spacingAndGlyphs">10.9%</text>
<rect x="604" y="19.1" width="9.6" height="178.8" fill="none" stroke="#222" stroke-width="0.8"/>
<g stroke-linecap="round">
<line x1="656.5" y1="238.5" x2="639.5" y2="233.3" stroke="#1c1" stroke-width="1.6"/>
<polygon points="636,232.3 642,230.1 640.9,235.7" fill="#1a1"/>
<line x1="656.5" y1="238.5" x2="656.5" y2="222.5" stroke="#00f" stroke-width="1.8"/>
<polygon points="656.5,217.5 653.8,223.5 659.2,223.5" fill="#00e"/>
<line x1="656.5" y1="238.5" x2="664" y2="231" stroke="#f00" stroke-width="1.8"/>
<polygon points="666.5,227.9 662,230 665,232.9" fill="#f00"/>
<circle cx="656.5" cy="238.5" r="1.3" fill="#dd0"/>
</g>
<text x="655.9" y="214" font-family="Liberation Sans" font-size="8.3" fill="#3344ee">Z</text>
<text x="669.1" y="225.1" font-family="Liberation Sans" font-size="8.3" fill="#ff6666">X</text>
<text x="630.9" y="231.3" font-family="Liberation Sans" font-size="8.3" fill="#66ee66">Y</text>
<text class="s" x="572.4" y="266.9" font-size="13.3" fill="#000">(<tspan font-weight="bold">c</tspan>)</text>
<g clip-path="url(#cdb)">
<polygon points="1.1,441 91.3,346.1 91.3,415.9 1.1,510.8" fill="#0EEE00"/>
<polygon points="-8,520 -8,380 57,380 57,381.5 55.3,383.2 53.5,390 52,396.8 52,404.1 53.4,407.1 58.6,406.3 62,404.9 67,403 70.5,401.5 71.5,402.5 68,410 55,435 40,520" fill="#8AEE00" stroke="#fff" stroke-width="0.85" stroke-opacity="0.95"/>
<polygon points="-8,520 -8,390 46.5,390 46.5,393.5 43.2,399 41,405.6 41,412.2 43.2,415.1 47.6,414.4 54.9,410.7 62,407.8 65.5,406 67.3,406.5 66.5,409 60,420 45,450 35,520" fill="#E8EC00" stroke="#fff" stroke-width="0.85" stroke-opacity="0.95"/>
<polygon points="-8,520 -8,400 33,400 33,407.5 29.3,416 25.6,425.5 24.5,430.6 26.3,433.9 30.7,432.5 36.6,428 40.4,424.4 46.7,420.5 52.9,416.5 57.1,413.8 59.2,414 58.5,416.5 52,428 40,450 30,472.9 27.8,477 24.1,482 23.4,487.4 22,492 15,520" fill="#EBC000" stroke="#fff" stroke-width="0.85" stroke-opacity="0.95"/>
<polygon points="-8,470 1.1,463.4 7.3,458.3 14.6,452.5 21.9,445.9 29.3,439.3 34.2,434.5 40.4,429.4 46.7,425.7 49.3,425 49.5,426.5 46,432 38,445 33,455 30,464.2 24.1,471.5 16.8,480 1.1,496.9 -8,505" fill="#EA4400" stroke="#fff" stroke-width="0.85" stroke-opacity="0.95"/>
<polygon points="-8,475 1.1,467.8 7.3,462 14.6,456.1 21.9,449.6 29.3,443 32,440.8 34.5,439.5 36.1,438.8 36.4,440 34,445 30.7,450.3 29.3,453.9 24.1,462.7 18.3,472 9.5,480 1.1,487.4 -8,495" fill="#EB0000" stroke="#fff" stroke-width="0.85" stroke-opacity="0.95"/>
<polygon points="64.5,340 64.5,374 62.8,375.7 60.1,383 59.1,389.4 59.1,394.9 61.9,397.6 68.3,395.8 75.6,393.1 78,394 80,400 100,400 100,340" fill="#00EC14" stroke="#fff" stroke-width="0.85" stroke-opacity="0.95"/>
<polygon points="69.8,340 69.8,368.8 69.2,369.3 66.9,375.7 66,383 66.9,387.6 71.9,389.4 78.3,388.5 81.1,389.4 84,392 85,400 100,400 100,340" fill="#00E887" stroke="#fff" stroke-width="0.85" stroke-opacity="0.95"/>
<polygon points="75,340 75,363.5 74.7,364.7 73.3,373 73.3,380.3 75.6,383.9 81.1,384.9 84,385.5 86,392 100,392 100,340" fill="#00EBE8" stroke="#fff" stroke-width="0.85" stroke-opacity="0.95"/>
<polygon points="80,340 80,357.5 79.3,362 78.8,371.1 79.3,377.5 82,380.3 84,381 85.5,386 86.5,395 100,395 100,340" fill="#00C2EB" stroke="#fff" stroke-width="0.85" stroke-opacity="0.95"/>
<polygon points="85.2,340 85.2,353 85.2,368.3 86,381.5 86.5,395 100,395 100,340" fill="#0438E8" stroke="#fff" stroke-width="0.85" stroke-opacity="0.95"/>
<polygon points="89.5,340 89.5,351 89.7,377 90,395 100,395 100,340" fill="#0000DC" stroke="#fff" stroke-width="0.85" stroke-opacity="0.95"/>
</g>
<polygon points="1.1,441 91.3,346.1 91.3,415.9 1.1,510.8" fill="none" stroke="#808590" stroke-width="0.55"/>
<polygon points="91.3,346.1 121.6,354.5 91.3,386" fill="#05007E" stroke="#556" stroke-width="0.4"/>
<g clip-path="url(#cdf)">
<polygon points="30.6,449 121.6,354.5 121.6,423.5 30.6,518.3" fill="#0EEE00"/>
<polygon points="20,530 20,440 40,430 50.1,428.5 59.6,429.1 69.1,426.2 78,422.1 85.3,417.7 92.6,413.3 95.9,412.6 95.5,415.5 91.1,423.6 85.3,433.1 82.4,438 78,445 70.1,456.7 64.3,466 58.7,478 53.3,489.5 48.7,500.3 45,530" fill="#8AEE00" stroke="#fff" stroke-width="0.85" stroke-opacity="0.95"/>
<polygon points="20,468 30.6,466.9 39,461.1 46,453.1 53.3,447.2 60.6,441.4 67.9,435.5 75.3,429.7 78,428.2 81.6,425.5 83.4,426.2 82.5,430 80.7,433.9 72,446 64,458.5 57.5,466.5 48,478 43.3,487.2 38,493.4 31.1,498.7 20,505" fill="#E8EC00" stroke="#fff" stroke-width="0.85" stroke-opacity="0.95"/>
<polygon points="20,475 30.6,472.8 39,466.9 46,460.4 53.3,453.8 60.6,446.5 67.9,439.9 71,437 72.7,436.2 72.8,437.5 71.6,440 67.9,446.5 60.6,456.5 53.3,465 46,474.5 39.5,481.8 31.1,489.5 20,495" fill="#EBC000" stroke="#fff" stroke-width="0.85" stroke-opacity="0.95"/>
<polygon points="29,482.5 30.9,480.5 37.8,473.3 38.3,473.9 31.6,481.8 29.5,484" fill="#EA4400" stroke="#fff" stroke-width="0.85" stroke-opacity="0.95"/>
<polygon points="72.3,395 72.3,405.5 74.3,409.4 78,413 85.3,412.6 92.6,407.5 99.9,403.8 104.3,403.1 105,405.3 102.8,412.6 99.2,421.4 94.8,430.9 91,438 85,449 78,462 73,472 71.8,476 71,485 130,485 130,395" fill="#00EC14" stroke="#fff" stroke-width="0.85" stroke-opacity="0.95"/>
<polygon points="83.7,385 83.7,393.9 85.2,397.6 89,401.5 92.6,403.1 99.9,400.9 105.8,399.5 108.7,402.4 108.7,409 105.8,418.5 102.1,427.2 98.5,438 94,449 89,460 86.6,465 86,475 130,475 130,385" fill="#00E887" stroke="#fff" stroke-width="0.85" stroke-opacity="0.95"/>
<polygon points="93.2,375 93.2,384.4 94.7,386.6 97.6,390.3 101.3,393.2 107.1,394 110.1,396 111.6,405.3 110.9,414.1 108,422.1 104.3,431.6 102.1,438 98,446 96.5,449.7 96,460 130,460 130,375" fill="#00EBE8" stroke="#fff" stroke-width="0.85" stroke-opacity="0.95"/>
<polygon points="101.3,365 101.3,374.9 103.4,379.3 106.4,385.2 110,387 112.8,392 113.2,400 113,411.2 110.9,422.1 108,431.6 105.8,438 104,445 130,445 130,365" fill="#00C2EB" stroke="#fff" stroke-width="0.85" stroke-opacity="0.95"/>
<polygon points="108.4,360 108.4,368.1 109.1,373.9 111.3,382.7 113.5,388.6 114.3,392 114.5,405 113,419.9 110.9,431.6 109.4,436.7 108,445 130,445 130,360" fill="#0438E8" stroke="#fff" stroke-width="0.85" stroke-opacity="0.95"/>
<polygon points="115.7,350 115.7,360.8 115.7,373.9 117.2,384.9 117.9,392 118,405 117,420 115,435 114,445 130,445 130,350" fill="#0000DC" stroke="#fff" stroke-width="0.85" stroke-opacity="0.95"/>
</g>
<polygon points="30.6,449 121.6,354.5 121.6,423.5 30.6,518.3" fill="none" stroke="#808590" stroke-width="0.55"/>
<text class="m" x="130.5" y="288.6" font-size="6.6" fill="#1a1a1a" textLength="44.7" lengthAdjust="spacingAndGlyphs">DISPLACEMENT</text>
<text class="m" x="130.5" y="295.8" font-size="6.6" fill="#1a1a1a" textLength="44.7" lengthAdjust="spacingAndGlyphs">TOTAL T , mm</text>
<rect x="130.5" y="303.6" width="9.6" height="15" fill="#FF0000"/>
<rect x="130.5" y="318.6" width="9.6" height="15" fill="#FF5000"/>
<rect x="130.5" y="333.5" width="9.6" height="15" fill="#FFC800"/>
<rect x="130.5" y="348.5" width="9.6" height="15" fill="#FFFF00"/>
<rect x="130.5" y="363.5" width="9.6" height="15" fill="#96FF00"/>
<rect x="130.5" y="378.4" width="9.6" height="15" fill="#14F500"/>
<rect x="130.5" y="393.4" width="9.6" height="15" fill="#00F020"/>
<rect x="130.5" y="408.4" width="9.6" height="15" fill="#00F096"/>
<rect x="130.5" y="423.4" width="9.6" height="15" fill="#00FFFF"/>
<rect x="130.5" y="438.3" width="9.6" height="15" fill="#00CDFF"/>
<rect x="130.5" y="453.3" width="9.6" height="15" fill="#0050FF"/>
<rect x="130.5" y="468.3" width="9.6" height="15" fill="#0000FF"/>
<line x1="140.1" y1="303.6" x2="158.1" y2="303.6" stroke="#aaa" stroke-width="0.9"/>
<text class="m" x="159.1" y="306.7" font-size="6.6" fill="#111" textLength="47.9" lengthAdjust="spacingAndGlyphs">+1.80344e+001</text>
<line x1="140.1" y1="318.6" x2="158.1" y2="318.6" stroke="#aaa" stroke-width="0.9"/>
<line x1="130.5" y1="318.6" x2="140.1" y2="318.6" stroke="#300" stroke-width="0.8" stroke-opacity="0.7"/>
<text class="m" x="159.1" y="321.7" font-size="6.6" fill="#111" textLength="47.9" lengthAdjust="spacingAndGlyphs">+1.74325e+001</text>
<line x1="140.1" y1="333.5" x2="158.1" y2="333.5" stroke="#aaa" stroke-width="0.9"/>
<line x1="130.5" y1="333.5" x2="140.1" y2="333.5" stroke="#300" stroke-width="0.8" stroke-opacity="0.7"/>
<text class="m" x="159.1" y="336.6" font-size="6.6" fill="#111" textLength="47.9" lengthAdjust="spacingAndGlyphs">+1.68306e+001</text>
<line x1="140.1" y1="348.5" x2="158.1" y2="348.5" stroke="#aaa" stroke-width="0.9"/>
<line x1="130.5" y1="348.5" x2="140.1" y2="348.5" stroke="#300" stroke-width="0.8" stroke-opacity="0.7"/>
<text class="m" x="159.1" y="351.6" font-size="6.6" fill="#111" textLength="47.9" lengthAdjust="spacingAndGlyphs">+1.62287e+001</text>
<line x1="140.1" y1="363.5" x2="158.1" y2="363.5" stroke="#aaa" stroke-width="0.9"/>
<line x1="130.5" y1="363.5" x2="140.1" y2="363.5" stroke="#300" stroke-width="0.8" stroke-opacity="0.7"/>
<text class="m" x="159.1" y="366.6" font-size="6.6" fill="#111" textLength="47.9" lengthAdjust="spacingAndGlyphs">+1.56268e+001</text>
<line x1="140.1" y1="378.4" x2="158.1" y2="378.4" stroke="#aaa" stroke-width="0.9"/>
<line x1="130.5" y1="378.4" x2="140.1" y2="378.4" stroke="#300" stroke-width="0.8" stroke-opacity="0.7"/>
<text class="m" x="159.1" y="381.6" font-size="6.6" fill="#111" textLength="47.9" lengthAdjust="spacingAndGlyphs">+1.50249e+001</text>
<line x1="140.1" y1="393.4" x2="158.1" y2="393.4" stroke="#aaa" stroke-width="0.9"/>
<line x1="130.5" y1="393.4" x2="140.1" y2="393.4" stroke="#300" stroke-width="0.8" stroke-opacity="0.7"/>
<text class="m" x="159.1" y="396.5" font-size="6.6" fill="#111" textLength="47.9" lengthAdjust="spacingAndGlyphs">+1.44231e+001</text>
<line x1="140.1" y1="408.4" x2="158.1" y2="408.4" stroke="#aaa" stroke-width="0.9"/>
<line x1="130.5" y1="408.4" x2="140.1" y2="408.4" stroke="#300" stroke-width="0.8" stroke-opacity="0.7"/>
<text class="m" x="159.1" y="411.5" font-size="6.6" fill="#111" textLength="47.9" lengthAdjust="spacingAndGlyphs">+1.38212e+001</text>
<line x1="140.1" y1="423.4" x2="158.1" y2="423.4" stroke="#aaa" stroke-width="0.9"/>
<line x1="130.5" y1="423.4" x2="140.1" y2="423.4" stroke="#300" stroke-width="0.8" stroke-opacity="0.7"/>
<text class="m" x="159.1" y="426.5" font-size="6.6" fill="#111" textLength="47.9" lengthAdjust="spacingAndGlyphs">+1.32193e+001</text>
<line x1="140.1" y1="438.3" x2="158.1" y2="438.3" stroke="#aaa" stroke-width="0.9"/>
<line x1="130.5" y1="438.3" x2="140.1" y2="438.3" stroke="#300" stroke-width="0.8" stroke-opacity="0.7"/>
<text class="m" x="159.1" y="441.4" font-size="6.6" fill="#111" textLength="47.9" lengthAdjust="spacingAndGlyphs">+1.26174e+001</text>
<line x1="140.1" y1="453.3" x2="158.1" y2="453.3" stroke="#aaa" stroke-width="0.9"/>
<line x1="130.5" y1="453.3" x2="140.1" y2="453.3" stroke="#300" stroke-width="0.8" stroke-opacity="0.7"/>
<text class="m" x="159.1" y="456.4" font-size="6.6" fill="#111" textLength="47.9" lengthAdjust="spacingAndGlyphs">+1.20155e+001</text>
<line x1="140.1" y1="468.3" x2="158.1" y2="468.3" stroke="#aaa" stroke-width="0.9"/>
<line x1="130.5" y1="468.3" x2="140.1" y2="468.3" stroke="#300" stroke-width="0.8" stroke-opacity="0.7"/>
<text class="m" x="159.1" y="471.4" font-size="6.6" fill="#111" textLength="47.9" lengthAdjust="spacingAndGlyphs">+1.14136e+001</text>
<line x1="140.1" y1="483.2" x2="158.1" y2="483.2" stroke="#aaa" stroke-width="0.9"/>
<text class="m" x="159.1" y="486.3" font-size="6.6" fill="#111" textLength="47.9" lengthAdjust="spacingAndGlyphs">+1.08117e+001</text>
<text class="m" x="145.2" y="313.8" font-size="6.6" fill="#f00" textLength="14.3" lengthAdjust="spacingAndGlyphs">3.9%</text>
<text class="m" x="145.2" y="328.8" font-size="6.6" fill="#f00" textLength="14.3" lengthAdjust="spacingAndGlyphs">4.8%</text>
<text class="m" x="145.2" y="343.7" font-size="6.6" fill="#f00" textLength="17.9" lengthAdjust="spacingAndGlyphs">14.1%</text>
<text class="m" x="145.2" y="358.7" font-size="6.6" fill="#f00" textLength="17.9" lengthAdjust="spacingAndGlyphs">11.0%</text>
<text class="m" x="145.2" y="373.7" font-size="6.6" fill="#f00" textLength="17.9" lengthAdjust="spacingAndGlyphs">15.9%</text>
<text class="m" x="145.2" y="388.6" font-size="6.6" fill="#f00" textLength="17.9" lengthAdjust="spacingAndGlyphs">11.0%</text>
<text class="m" x="145.2" y="403.6" font-size="6.6" fill="#f00" textLength="14.3" lengthAdjust="spacingAndGlyphs">8.1%</text>
<text class="m" x="145.2" y="418.6" font-size="6.6" fill="#f00" textLength="14.3" lengthAdjust="spacingAndGlyphs">6.3%</text>
<text class="m" x="145.2" y="433.5" font-size="6.6" fill="#f00" textLength="14.3" lengthAdjust="spacingAndGlyphs">5.1%</text>
<text class="m" x="145.2" y="448.5" font-size="6.6" fill="#f00" textLength="14.3" lengthAdjust="spacingAndGlyphs">4.3%</text>
<text class="m" x="145.2" y="463.5" font-size="6.6" fill="#f00" textLength="14.3" lengthAdjust="spacingAndGlyphs">4.2%</text>
<text class="m" x="145.2" y="478.5" font-size="6.6" fill="#f00" textLength="17.9" lengthAdjust="spacingAndGlyphs">11.2%</text>
<rect x="130.5" y="303.6" width="9.6" height="179.6" fill="none" stroke="#222" stroke-width="0.8"/>
<g stroke-linecap="round">
<line x1="183" y1="524.2" x2="166" y2="519" stroke="#1c1" stroke-width="1.6"/>
<polygon points="162.5,518 168.5,515.8 167.4,521.4" fill="#1a1"/>
<line x1="183" y1="524.2" x2="183" y2="508.2" stroke="#00f" stroke-width="1.8"/>
<polygon points="183,503.2 180.3,509.2 185.7,509.2" fill="#00e"/>
<line x1="183" y1="524.2" x2="190.5" y2="516.7" stroke="#f00" stroke-width="1.8"/>
<polygon points="193,513.6 188.5,515.7 191.5,518.6" fill="#f00"/>
<circle cx="183" cy="524.2" r="1.3" fill="#dd0"/>
</g>
<text x="182.4" y="499.7" font-family="Liberation Sans" font-size="8.3" fill="#3344ee">Z</text>
<text x="195.6" y="510.8" font-family="Liberation Sans" font-size="8.3" fill="#ff6666">X</text>
<text x="157.4" y="517" font-family="Liberation Sans" font-size="8.3" fill="#66ee66">Y</text>
<text class="s" x="96.4" y="543.5" font-size="13.3" fill="#000">(<tspan font-weight="bold">d</tspan>)</text>
<g clip-path="url(#ceb)">
<polygon points="245.1,440.5 334,343.3 334,415.8 245.1,511.7" fill="#0EEE00"/>
<polygon points="235,520 235,370 301.3,370 301.3,379 299.4,386.8 298,396.3 298.7,402.9 303.1,404.3 308,402.1 312,400.5 315,400.8 314,404 305,420 290,460 280,520" fill="#8AEE00" stroke="#fff" stroke-width="0.85" stroke-opacity="0.95"/>
<polygon points="235,520 235,380 293.3,380 293.3,389 290.7,396.3 289.2,403.6 289.2,410.9 292.1,413.1 297.3,410.2 304.6,407.3 309,406.8 312,407.5 311,410 300,425 285,460 275,520" fill="#E8EC00" stroke="#fff" stroke-width="0.85" stroke-opacity="0.95"/>
<polygon points="235,520 235,390 282,390 282,400.5 279.7,405.8 278.2,411.6 277.5,418 276.6,422 277,425.4 280,424.1 285,422 292,419 298,416.5 301,416.3 300.5,418.5 295,428 285,445 276,470 274,485 268,520" fill="#EBC000" stroke="#fff" stroke-width="0.85" stroke-opacity="0.95"/>
<polygon points="235,430 245.1,438 245.1,458.5 251,446 256.5,436 260,427 264.9,418.3 267,414 267,400 235,400" fill="#EA4400" stroke="#fff" stroke-width="0.85" stroke-opacity="0.95"/>
<polygon points="235,462 245.1,459.1 251,454 261.9,446 268,439.3 274.2,435.6 280.4,431.9 286.6,428.5 290.4,427.2 291.6,427.6 290.5,430.5 284,440 278,452 274.4,468.6 271.4,472 266.7,483.8 262.8,491.6 258,505 250,520 235,520" fill="#EA4400" stroke="#fff" stroke-width="0.85" stroke-opacity="0.95"/>
<polygon points="235,475 245.1,468.6 254.6,459.1 265.6,449.6 275.1,442.3 278,441.8 278.5,443 276,449 274.4,456.2 269.3,464.3 263.6,472 255.7,481.4 245.3,492.4 235,500" fill="#EB0000" stroke="#fff" stroke-width="0.85" stroke-opacity="0.95"/>
<polygon points="308,340 308,372 305.7,380.3 304.8,389.4 305.7,395.8 310.3,396.7 315.8,394.9 319.4,393.1 323,392 345,392 345,340" fill="#00EC14" stroke="#fff" stroke-width="0.85" stroke-opacity="0.95"/>
<polygon points="313.8,340 313.8,365.5 311.7,373.9 311.2,383.9 313,388.5 318.5,389.4 322.2,388.5 325,388.5 326,392 326.5,400 345,400 345,340" fill="#00E887" stroke="#fff" stroke-width="0.85" stroke-opacity="0.95"/>
<polygon points="318.8,340 318.8,361 317.6,371.1 318.1,380.3 321.3,382.1 325,382 326.5,384 327,390 327.5,400 345,400 345,340" fill="#00EBE8" stroke="#fff" stroke-width="0.85" stroke-opacity="0.95"/>
<polygon points="323.7,340 323.7,354.7 323.1,357 322.5,363.4 322.8,369.5 324.1,375.7 326.8,378.3 327.6,385.3 328,395 345,395 345,340" fill="#00C2EB" stroke="#fff" stroke-width="0.85" stroke-opacity="0.95"/>
<polygon points="328.4,340 328.4,349.5 328.1,356.4 327.8,362 328.1,369.5 328.5,376 329.6,380 330.3,387.1 331,395 345,395 345,340" fill="#0438E8" stroke="#fff" stroke-width="0.85" stroke-opacity="0.95"/>
<polygon points="332.7,340 332.7,347 332.7,365 332.9,382.7 333,395 345,395 345,340" fill="#0000DC" stroke="#fff" stroke-width="0.85" stroke-opacity="0.95"/>
</g>
<polygon points="245.1,440.5 334,343.3 334,415.8 245.1,511.7" fill="none" stroke="#808590" stroke-width="0.55"/>
<polygon points="334,343.3 363.8,352.4 334,384.3" fill="#05007E" stroke="#556" stroke-width="0.4"/>
<g clip-path="url(#cef)">
<polygon points="274.7,447.9 363.8,352.4 363.8,422.3 274.7,519.9" fill="#0EEE00"/>
<polygon points="265,525 265,430 283.2,430 283.2,440.4 291.3,437.3 300.6,434.2 306.9,431.5 313.9,427.5 321.3,422.6 328,419 332,416.6 336,415 336.3,416.3 335.3,418.2 331.2,424.6 328.8,430 324.1,439.3 315.4,456.8 306.6,473.3 303.3,481 300,488 295.3,497.3 290,525" fill="#8AEE00" stroke="#fff" stroke-width="0.85" stroke-opacity="0.95"/>
<polygon points="265,470 274.7,469.5 282,461 288.2,455.3 294.4,449.8 300.6,444.2 306.9,439.2 313.1,434.2 316.5,432.2 321.3,428 323.4,428.2 323.5,430 322,434.9 316,446.6 310,456 306.9,462 300,470 292.1,478 284.1,488.5 275.1,498.1 265,505" fill="#E8EC00" stroke="#fff" stroke-width="0.85" stroke-opacity="0.95"/>
<polygon points="265,476 274.7,474.4 282,468.5 290.1,462 297.5,454.1 303.8,447.9 310,441.7 312.5,439.8 313,441 312.5,442.3 306.9,452.9 300.6,462 293,469.5 286.5,478 275.1,490.5 265,495" fill="#EBC000" stroke="#fff" stroke-width="0.85" stroke-opacity="0.95"/>
<polygon points="311.7,395 311.7,409 315.4,413.9 321.3,416 327.1,414.6 332,410.5 340.1,405.3 344.9,404.5 345.7,407.7 343.3,414.2 338.5,422.2 334.5,429 327.4,441.5 319.8,457.9 316.5,474.4 316,490 380,490 380,395" fill="#00EC14" stroke="#fff" stroke-width="0.85" stroke-opacity="0.95"/>
<polygon points="325.6,385 325.6,394 328.8,400.5 332,403.7 340.1,400.5 346.5,398.1 349.7,398.9 350.5,403.7 348.9,411.7 345.7,419.8 341,430 336,441.5 332,452 330.5,460 330,470 380,470 380,385" fill="#00E887" stroke="#fff" stroke-width="0.85" stroke-opacity="0.95"/>
<polygon points="334.5,375 334.5,385 336.4,389.7 340.8,394 346.1,394.5 350.5,394.5 353.8,397.3 353.8,406.1 351.4,416.6 348.1,430 344,441.5 342,447 341,460 380,460 380,375" fill="#00EBE8" stroke="#fff" stroke-width="0.85" stroke-opacity="0.95"/>
<polygon points="342.6,365 342.6,375.7 344.3,380.9 347.8,385.3 350.5,389.2 354.6,391.6 356.2,398.1 355.4,410.1 353.8,419.8 352.2,430 351,440 380,440 380,365" fill="#00C2EB" stroke="#fff" stroke-width="0.85" stroke-opacity="0.95"/>
<polygon points="350.5,355 350.5,367.8 351.3,378.3 354,386 356.5,394 357.5,402.1 357,414.2 355.4,430 355,440 380,440 380,355" fill="#0438E8" stroke="#fff" stroke-width="0.85" stroke-opacity="0.95"/>
<polygon points="356.8,350 356.8,360.8 357.8,378.3 359.3,390 360,402.1 359.4,418.2 358.6,426.2 358,440 380,440 380,350" fill="#0000DC" stroke="#fff" stroke-width="0.85" stroke-opacity="0.95"/>
</g>
<polygon points="274.7,447.9 363.8,352.4 363.8,422.3 274.7,519.9" fill="none" stroke="#808590" stroke-width="0.55"/>
<text class="m" x="372.4" y="285.5" font-size="6.6" fill="#1a1a1a" textLength="44.7" lengthAdjust="spacingAndGlyphs">DISPLACEMENT</text>
<text class="m" x="372.4" y="292.7" font-size="6.6" fill="#1a1a1a" textLength="44.7" lengthAdjust="spacingAndGlyphs">TOTAL T , mm</text>
<rect x="372.4" y="300.5" width="9.6" height="15.1" fill="#FF0000"/>
<rect x="372.4" y="315.6" width="9.6" height="15.1" fill="#FF5000"/>
<rect x="372.4" y="330.7" width="9.6" height="15.1" fill="#FFC800"/>
<rect x="372.4" y="345.8" width="9.6" height="15.1" fill="#FFFF00"/>
<rect x="372.4" y="360.9" width="9.6" height="15.1" fill="#96FF00"/>
<rect x="372.4" y="376" width="9.6" height="15.1" fill="#14F500"/>
<rect x="372.4" y="391.1" width="9.6" height="15.1" fill="#00F020"/>
<rect x="372.4" y="406.2" width="9.6" height="15.1" fill="#00F096"/>
<rect x="372.4" y="421.3" width="9.6" height="15.1" fill="#00FFFF"/>
<rect x="372.4" y="436.4" width="9.6" height="15.1" fill="#00CDFF"/>
<rect x="372.4" y="451.5" width="9.6" height="15.1" fill="#0050FF"/>
<rect x="372.4" y="466.6" width="9.6" height="15.1" fill="#0000FF"/>
<line x1="382" y1="300.5" x2="400" y2="300.5" stroke="#aaa" stroke-width="0.9"/>
<text class="m" x="401" y="303.6" font-size="6.6" fill="#111" textLength="47.9" lengthAdjust="spacingAndGlyphs">+2.00739e+001</text>
<line x1="382" y1="315.6" x2="400" y2="315.6" stroke="#aaa" stroke-width="0.9"/>
<line x1="372.4" y1="315.6" x2="382" y2="315.6" stroke="#300" stroke-width="0.8" stroke-opacity="0.7"/>
<text class="m" x="401" y="318.7" font-size="6.6" fill="#111" textLength="47.9" lengthAdjust="spacingAndGlyphs">+1.94186e+001</text>
<line x1="382" y1="330.7" x2="400" y2="330.7" stroke="#aaa" stroke-width="0.9"/>
<line x1="372.4" y1="330.7" x2="382" y2="330.7" stroke="#300" stroke-width="0.8" stroke-opacity="0.7"/>
<text class="m" x="401" y="333.8" font-size="6.6" fill="#111" textLength="47.9" lengthAdjust="spacingAndGlyphs">+1.87633e+001</text>
<line x1="382" y1="345.8" x2="400" y2="345.8" stroke="#aaa" stroke-width="0.9"/>
<line x1="372.4" y1="345.8" x2="382" y2="345.8" stroke="#300" stroke-width="0.8" stroke-opacity="0.7"/>
<text class="m" x="401" y="348.9" font-size="6.6" fill="#111" textLength="47.9" lengthAdjust="spacingAndGlyphs">+1.81079e+001</text>
<line x1="382" y1="360.9" x2="400" y2="360.9" stroke="#aaa" stroke-width="0.9"/>
<line x1="372.4" y1="360.9" x2="382" y2="360.9" stroke="#300" stroke-width="0.8" stroke-opacity="0.7"/>
<text class="m" x="401" y="364" font-size="6.6" fill="#111" textLength="47.9" lengthAdjust="spacingAndGlyphs">+1.74526e+001</text>
<line x1="382" y1="376" x2="400" y2="376" stroke="#aaa" stroke-width="0.9"/>
<line x1="372.4" y1="376" x2="382" y2="376" stroke="#300" stroke-width="0.8" stroke-opacity="0.7"/>
<text class="m" x="401" y="379.1" font-size="6.6" fill="#111" textLength="47.9" lengthAdjust="spacingAndGlyphs">+1.67973e+001</text>
<line x1="382" y1="391.1" x2="400" y2="391.1" stroke="#aaa" stroke-width="0.9"/>
<line x1="372.4" y1="391.1" x2="382" y2="391.1" stroke="#300" stroke-width="0.8" stroke-opacity="0.7"/>
<text class="m" x="401" y="394.2" font-size="6.6" fill="#111" textLength="47.9" lengthAdjust="spacingAndGlyphs">+1.61420e+001</text>
<line x1="382" y1="406.2" x2="400" y2="406.2" stroke="#aaa" stroke-width="0.9"/>
<line x1="372.4" y1="406.2" x2="382" y2="406.2" stroke="#300" stroke-width="0.8" stroke-opacity="0.7"/>
<text class="m" x="401" y="409.3" font-size="6.6" fill="#111" textLength="47.9" lengthAdjust="spacingAndGlyphs">+1.54867e+001</text>
<line x1="382" y1="421.3" x2="400" y2="421.3" stroke="#aaa" stroke-width="0.9"/>
<line x1="372.4" y1="421.3" x2="382" y2="421.3" stroke="#300" stroke-width="0.8" stroke-opacity="0.7"/>
<text class="m" x="401" y="424.4" font-size="6.6" fill="#111" textLength="47.9" lengthAdjust="spacingAndGlyphs">+1.48314e+001</text>
<line x1="382" y1="436.4" x2="400" y2="436.4" stroke="#aaa" stroke-width="0.9"/>
<line x1="372.4" y1="436.4" x2="382" y2="436.4" stroke="#300" stroke-width="0.8" stroke-opacity="0.7"/>
<text class="m" x="401" y="439.5" font-size="6.6" fill="#111" textLength="47.9" lengthAdjust="spacingAndGlyphs">+1.41761e+001</text>
<line x1="382" y1="451.5" x2="400" y2="451.5" stroke="#aaa" stroke-width="0.9"/>
<line x1="372.4" y1="451.5" x2="382" y2="451.5" stroke="#300" stroke-width="0.8" stroke-opacity="0.7"/>
<text class="m" x="401" y="454.6" font-size="6.6" fill="#111" textLength="47.9" lengthAdjust="spacingAndGlyphs">+1.35207e+001</text>
<line x1="382" y1="466.6" x2="400" y2="466.6" stroke="#aaa" stroke-width="0.9"/>
<line x1="372.4" y1="466.6" x2="382" y2="466.6" stroke="#300" stroke-width="0.8" stroke-opacity="0.7"/>
<text class="m" x="401" y="469.7" font-size="6.6" fill="#111" textLength="47.9" lengthAdjust="spacingAndGlyphs">+1.28654e+001</text>
<line x1="382" y1="481.7" x2="400" y2="481.7" stroke="#aaa" stroke-width="0.9"/>
<text class="m" x="401" y="484.8" font-size="6.6" fill="#111" textLength="47.9" lengthAdjust="spacingAndGlyphs">+1.22101e+001</text>
<text class="m" x="387.1" y="310.8" font-size="6.6" fill="#f00" textLength="14.3" lengthAdjust="spacingAndGlyphs">4.8%</text>
<text class="m" x="387.1" y="325.9" font-size="6.6" fill="#f00" textLength="14.3" lengthAdjust="spacingAndGlyphs">8.6%</text>
<text class="m" x="387.1" y="340.9" font-size="6.6" fill="#f00" textLength="17.9" lengthAdjust="spacingAndGlyphs">11.9%</text>
<text class="m" x="387.1" y="356.1" font-size="6.6" fill="#f00" textLength="14.3" lengthAdjust="spacingAndGlyphs">9.8%</text>
<text class="m" x="387.1" y="371.1" font-size="6.6" fill="#f00" textLength="17.9" lengthAdjust="spacingAndGlyphs">14.5%</text>
<text class="m" x="387.1" y="386.2" font-size="6.6" fill="#f00" textLength="17.9" lengthAdjust="spacingAndGlyphs">11.6%</text>
<text class="m" x="387.1" y="401.4" font-size="6.6" fill="#f00" textLength="14.3" lengthAdjust="spacingAndGlyphs">8.0%</text>
<text class="m" x="387.1" y="416.4" font-size="6.6" fill="#f00" textLength="14.3" lengthAdjust="spacingAndGlyphs">6.3%</text>
<text class="m" x="387.1" y="431.6" font-size="6.6" fill="#f00" textLength="14.3" lengthAdjust="spacingAndGlyphs">5.0%</text>
<text class="m" x="387.1" y="446.6" font-size="6.6" fill="#f00" textLength="14.3" lengthAdjust="spacingAndGlyphs">4.3%</text>
<text class="m" x="387.1" y="461.8" font-size="6.6" fill="#f00" textLength="14.3" lengthAdjust="spacingAndGlyphs">4.2%</text>
<text class="m" x="387.1" y="476.9" font-size="6.6" fill="#f00" textLength="17.9" lengthAdjust="spacingAndGlyphs">11.0%</text>
<rect x="372.4" y="300.5" width="9.6" height="181.2" fill="none" stroke="#222" stroke-width="0.8"/>
<g stroke-linecap="round">
<line x1="424" y1="525.2" x2="407" y2="520" stroke="#1c1" stroke-width="1.6"/>
<polygon points="403.5,519 409.5,516.8 408.4,522.4" fill="#1a1"/>
<line x1="424" y1="525.2" x2="424" y2="509.2" stroke="#00f" stroke-width="1.8"/>
<polygon points="424,504.2 421.3,510.2 426.7,510.2" fill="#00e"/>
<line x1="424" y1="525.2" x2="431.5" y2="517.7" stroke="#f00" stroke-width="1.8"/>
<polygon points="434,514.6 429.5,516.7 432.5,519.6" fill="#f00"/>
<circle cx="424" cy="525.2" r="1.3" fill="#dd0"/>
</g>
<text x="423.4" y="500.7" font-family="Liberation Sans" font-size="8.3" fill="#3344ee">Z</text>
<text x="436.6" y="511.8" font-family="Liberation Sans" font-size="8.3" fill="#ff6666">X</text>
<text x="398.4" y="518" font-family="Liberation Sans" font-size="8.3" fill="#66ee66">Y</text>
<text class="s" x="336.4" y="543.5" font-size="13.3" fill="#000">(<tspan font-weight="bold">e</tspan>)</text>
<g clip-path="url(#cfb)">
<polygon points="471.4,438 565.6,343 565.6,413.4 471.4,508.4" fill="#0EEE00"/>
<polygon points="460,520 460,370 531,370 531,379.8 528.4,387.5 526.9,396.3 526.9,401.4 530.6,403.6 534,402.9 538,402.5 541,403.5 541,406 530,425 515,460 505,520" fill="#8AEE00" stroke="#fff" stroke-width="0.85" stroke-opacity="0.95"/>
<polygon points="460,520 460,380 521.5,380 521.5,387.8 518.9,396.3 517.4,403.6 517.4,410.9 521.8,412.4 526.9,411.6 532,411 535.5,412 535,414.5 525,430 510,460 500,520" fill="#E8EC00" stroke="#fff" stroke-width="0.85" stroke-opacity="0.95"/>
<polygon points="460,515 460,390 509.8,390 509.8,399.5 507.2,407.3 505.7,414.6 504.6,420 504.8,424.5 508,424.8 515,423 522,421 526,420.5 526.5,422 520,432 505,455 499,470 497.5,474.6 494.4,485.3 490,500" fill="#EBC000" stroke="#fff" stroke-width="0.85" stroke-opacity="0.95"/>
<polygon points="460,430 471.4,436 471.4,454 477,444.5 481.5,436 485.7,427.8 490.1,419 493,414 493,395 460,395" fill="#EA4400" stroke="#fff" stroke-width="0.85" stroke-opacity="0.95"/>
<polygon points="460,460 471.9,456.9 480.6,449.6 491.6,442.3 502.6,435.5 507,434 511,433.3 511.5,434.5 507,442 502,460 499,470 497.5,474.6 494.4,485.3 490,500 480,520 460,520" fill="#EA4400" stroke="#fff" stroke-width="0.85" stroke-opacity="0.95"/>
<polygon points="460,478 471.5,469.4 480.6,459.1 487.9,453.3 495.3,449.6 501.1,447.4 504,446.5 504.5,448 501.1,458.4 495.3,465.7 491.3,470 487.9,475 481.3,483 471.4,491.9 460,500" fill="#EB0000" stroke="#fff" stroke-width="0.85" stroke-opacity="0.95"/>
<polygon points="538.3,340 538.3,371.3 537,372.8 535.1,381 534.7,390.2 535.6,394.7 540.6,395.6 547,395.6 549.8,397.5 551,400 552,410 580,410 580,340" fill="#00EC14" stroke="#fff" stroke-width="0.85" stroke-opacity="0.95"/>
<polygon points="544.2,340 544.2,365.4 543.4,366.4 542,375.5 541.5,385.6 543.4,389.2 548.9,390.2 551.6,392 552.5,394.7 554,400 580,400 580,340" fill="#00E887" stroke="#fff" stroke-width="0.85" stroke-opacity="0.95"/>
<polygon points="549.6,340 549.6,360 548.4,361.8 547.9,369.1 547.9,378.3 550.7,382.9 555.3,384.7 557.1,387.4 558.5,392 559,400 580,400 580,340" fill="#00EBE8" stroke="#fff" stroke-width="0.85" stroke-opacity="0.95"/>
<polygon points="555,340 555,354.5 553.4,360 553.4,369.1 553.9,376.5 556.2,380.1 558,383.8 559.5,388 560,395 580,395 580,340" fill="#00C2EB" stroke="#fff" stroke-width="0.85" stroke-opacity="0.95"/>
<polygon points="560,340 560,349.5 559.5,356 559.2,363 559.8,374.6 560.6,382 561.2,386 562,395 580,395 580,340" fill="#0438E8" stroke="#fff" stroke-width="0.85" stroke-opacity="0.95"/>
<polygon points="564.3,335 564.3,360 564.4,381.5 564.5,395 580,395 580,335" fill="#0000DC" stroke="#fff" stroke-width="0.85" stroke-opacity="0.95"/>
</g>
<polygon points="471.4,438 565.6,343 565.6,413.4 471.4,508.4" fill="none" stroke="#808590" stroke-width="0.55"/>
<polygon points="565.6,343 596.5,350.6 565.6,382" fill="#05007E" stroke="#556" stroke-width="0.4"/>
<g clip-path="url(#cff)">
<polygon points="502.5,446 596.5,350.6 596.5,420.4 502.5,516.3" fill="#0EEE00"/>
<polygon points="495,520 495,455 502.6,458.2 507.3,453 514.6,448.7 520.5,445 525.3,442 532.6,434.9 540,429.8 547.3,425.4 553.1,422.5 556.5,422 558.5,423.5 560.1,429 557.9,440 552.4,450.9 544.8,464.1 540,469 532.9,475 528.7,477 522.6,485.2 518,491.3 517.2,501.3 515,520" fill="#8AEE00" stroke="#fff" stroke-width="0.85" stroke-opacity="0.95"/>
<polygon points="495,470 502.6,470.6 511,464 518,458.5 525,451.5 531,446.5 536.3,442 542.1,437.1 545.5,434.7 546.7,435.2 547,438 547,442.1 541.5,453.1 535,463 529.3,471.5 522.6,478 513.3,489 502.6,496.7 495,500" fill="#E8EC00" stroke="#fff" stroke-width="0.85" stroke-opacity="0.95"/>
<polygon points="504.5,488 506,482 509,476 512.5,471.8 514,472.5 513.5,476 510.5,481 507.5,486.5 505.5,489" fill="#EBC000" stroke="#fff" stroke-width="0.85" stroke-opacity="0.95"/>
<polygon points="534.8,400 534.8,412.5 540,415.9 547.3,418.8 553.1,418.1 558,415.9 561.4,412.2 569.5,408.9 571.9,410.5 572.7,416.2 571.1,422.6 568.9,427 564,438 557.9,450.9 547,467.4 544.8,475.1 544,485 610,485 610,400" fill="#00EC14" stroke="#fff" stroke-width="0.85" stroke-opacity="0.95"/>
<polygon points="551.7,385 551.7,396.1 554.6,401.3 558.3,405.6 561.9,406.8 567.1,404.1 575.1,400.9 579.1,401.2 579.9,406.5 578.3,414.6 575.1,422.6 572.7,428 568.9,440 561.2,450.9 559,458.6 558,470 610,470 610,385" fill="#00E887" stroke="#fff" stroke-width="0.85" stroke-opacity="0.95"/>
<polygon points="563.4,375 563.4,384.4 565.6,389.8 568.7,395 572.9,395.2 576.6,394 581.5,394.3 583.2,400.1 583.2,408.1 580.7,417.8 577.5,428 574,440 570,450 610,450 610,375" fill="#00EBE8" stroke="#fff" stroke-width="0.85" stroke-opacity="0.95"/>
<polygon points="572.1,365 572.1,375.2 573.7,379 575.5,383 578.3,387.5 583.2,389.6 585.6,394.5 586.4,404.1 585.6,414.6 583.2,424.2 581.5,428 580,440 610,440 610,365" fill="#00C2EB" stroke="#fff" stroke-width="0.85" stroke-opacity="0.95"/>
<polygon points="580.6,355 580.6,366.7 581.3,372.9 582.9,378.3 585.5,382.9 587.5,388 588.8,396.1 588.8,408.1 587.2,420.2 586.4,428 586,440 610,440 610,355" fill="#0438E8" stroke="#fff" stroke-width="0.85" stroke-opacity="0.95"/>
<polygon points="588.3,345 588.3,358.3 589,369 590,380 591,388 591.8,404.1 591.2,420.2 590.4,425 590,440 610,440 610,345" fill="#0000DC" stroke="#fff" stroke-width="0.85" stroke-opacity="0.95"/>
</g>
<polygon points="502.5,446 596.5,350.6 596.5,420.4 502.5,516.3" fill="none" stroke="#808590" stroke-width="0.55"/>
<text class="m" x="605.4" y="285.2" font-size="6.6" fill="#1a1a1a" textLength="44.7" lengthAdjust="spacingAndGlyphs">DISPLACEMENT</text>
<text class="m" x="605.4" y="292.4" font-size="6.6" fill="#1a1a1a" textLength="44.7" lengthAdjust="spacingAndGlyphs">TOTAL T , mm</text>
<rect x="605.4" y="300.2" width="9.6" height="15" fill="#FF0000"/>
<rect x="605.4" y="315.2" width="9.6" height="15" fill="#FF5000"/>
<rect x="605.4" y="330.2" width="9.6" height="15" fill="#FFC800"/>
<rect x="605.4" y="345.2" width="9.6" height="15" fill="#FFFF00"/>
<rect x="605.4" y="360.2" width="9.6" height="15" fill="#96FF00"/>
<rect x="605.4" y="375.2" width="9.6" height="15" fill="#14F500"/>
<rect x="605.4" y="390.2" width="9.6" height="15" fill="#00F020"/>
<rect x="605.4" y="405.2" width="9.6" height="15" fill="#00F096"/>
<rect x="605.4" y="420.2" width="9.6" height="15" fill="#00FFFF"/>
<rect x="605.4" y="435.2" width="9.6" height="15" fill="#00CDFF"/>
<rect x="605.4" y="450.2" width="9.6" height="15" fill="#0050FF"/>
<rect x="605.4" y="465.2" width="9.6" height="15" fill="#0000FF"/>
<line x1="615" y1="300.2" x2="633" y2="300.2" stroke="#aaa" stroke-width="0.9"/>
<text class="m" x="634" y="303.3" font-size="6.6" fill="#111" textLength="47.9" lengthAdjust="spacingAndGlyphs">+2.23107e+001</text>
<line x1="615" y1="315.2" x2="633" y2="315.2" stroke="#aaa" stroke-width="0.9"/>
<line x1="605.4" y1="315.2" x2="615" y2="315.2" stroke="#300" stroke-width="0.8" stroke-opacity="0.7"/>
<text class="m" x="634" y="318.3" font-size="6.6" fill="#111" textLength="47.9" lengthAdjust="spacingAndGlyphs">+2.15752e+001</text>
<line x1="615" y1="330.2" x2="633" y2="330.2" stroke="#aaa" stroke-width="0.9"/>
<line x1="605.4" y1="330.2" x2="615" y2="330.2" stroke="#300" stroke-width="0.8" stroke-opacity="0.7"/>
<text class="m" x="634" y="333.3" font-size="6.6" fill="#111" textLength="47.9" lengthAdjust="spacingAndGlyphs">+2.08396e+001</text>
<line x1="615" y1="345.2" x2="633" y2="345.2" stroke="#aaa" stroke-width="0.9"/>
<line x1="605.4" y1="345.2" x2="615" y2="345.2" stroke="#300" stroke-width="0.8" stroke-opacity="0.7"/>
<text class="m" x="634" y="348.3" font-size="6.6" fill="#111" textLength="47.9" lengthAdjust="spacingAndGlyphs">+2.01040e+001</text>
<line x1="615" y1="360.2" x2="633" y2="360.2" stroke="#aaa" stroke-width="0.9"/>
<line x1="605.4" y1="360.2" x2="615" y2="360.2" stroke="#300" stroke-width="0.8" stroke-opacity="0.7"/>
<text class="m" x="634" y="363.3" font-size="6.6" fill="#111" textLength="47.9" lengthAdjust="spacingAndGlyphs">+1.93684e+001</text>
<line x1="615" y1="375.2" x2="633" y2="375.2" stroke="#aaa" stroke-width="0.9"/>
<line x1="605.4" y1="375.2" x2="615" y2="375.2" stroke="#300" stroke-width="0.8" stroke-opacity="0.7"/>
<text class="m" x="634" y="378.3" font-size="6.6" fill="#111" textLength="47.9" lengthAdjust="spacingAndGlyphs">+1.86328e+001</text>
<line x1="615" y1="390.2" x2="633" y2="390.2" stroke="#aaa" stroke-width="0.9"/>
<line x1="605.4" y1="390.2" x2="615" y2="390.2" stroke="#300" stroke-width="0.8" stroke-opacity="0.7"/>
<text class="m" x="634" y="393.3" font-size="6.6" fill="#111" textLength="47.9" lengthAdjust="spacingAndGlyphs">+1.78972e+001</text>
<line x1="615" y1="405.2" x2="633" y2="405.2" stroke="#aaa" stroke-width="0.9"/>
<line x1="605.4" y1="405.2" x2="615" y2="405.2" stroke="#300" stroke-width="0.8" stroke-opacity="0.7"/>
<text class="m" x="634" y="408.3" font-size="6.6" fill="#111" textLength="47.9" lengthAdjust="spacingAndGlyphs">+1.71616e+001</text>
<line x1="615" y1="420.2" x2="633" y2="420.2" stroke="#aaa" stroke-width="0.9"/>
<line x1="605.4" y1="420.2" x2="615" y2="420.2" stroke="#300" stroke-width="0.8" stroke-opacity="0.7"/>
<text class="m" x="634" y="423.3" font-size="6.6" fill="#111" textLength="47.9" lengthAdjust="spacingAndGlyphs">+1.64260e+001</text>
<line x1="615" y1="435.2" x2="633" y2="435.2" stroke="#aaa" stroke-width="0.9"/>
<line x1="605.4" y1="435.2" x2="615" y2="435.2" stroke="#300" stroke-width="0.8" stroke-opacity="0.7"/>
<text class="m" x="634" y="438.3" font-size="6.6" fill="#111" textLength="47.9" lengthAdjust="spacingAndGlyphs">+1.56904e+001</text>
<line x1="615" y1="450.2" x2="633" y2="450.2" stroke="#aaa" stroke-width="0.9"/>
<line x1="605.4" y1="450.2" x2="615" y2="450.2" stroke="#300" stroke-width="0.8" stroke-opacity="0.7"/>
<text class="m" x="634" y="453.3" font-size="6.6" fill="#111" textLength="47.9" lengthAdjust="spacingAndGlyphs">+1.49548e+001</text>
<line x1="615" y1="465.2" x2="633" y2="465.2" stroke="#aaa" stroke-width="0.9"/>
<line x1="605.4" y1="465.2" x2="615" y2="465.2" stroke="#300" stroke-width="0.8" stroke-opacity="0.7"/>
<text class="m" x="634" y="468.3" font-size="6.6" fill="#111" textLength="47.9" lengthAdjust="spacingAndGlyphs">+1.42192e+001</text>
<line x1="615" y1="480.2" x2="633" y2="480.2" stroke="#aaa" stroke-width="0.9"/>
<text class="m" x="634" y="483.3" font-size="6.6" fill="#111" textLength="47.9" lengthAdjust="spacingAndGlyphs">+1.34836e+001</text>
<text class="m" x="620.1" y="310.4" font-size="6.6" fill="#f00" textLength="14.3" lengthAdjust="spacingAndGlyphs">4.4%</text>
<text class="m" x="620.1" y="325.4" font-size="6.6" fill="#f00" textLength="14.3" lengthAdjust="spacingAndGlyphs">8.4%</text>
<text class="m" x="620.1" y="340.4" font-size="6.6" fill="#f00" textLength="14.3" lengthAdjust="spacingAndGlyphs">9.5%</text>
<text class="m" x="620.1" y="355.4" font-size="6.6" fill="#f00" textLength="17.9" lengthAdjust="spacingAndGlyphs">11.9%</text>
<text class="m" x="620.1" y="370.4" font-size="6.6" fill="#f00" textLength="17.9" lengthAdjust="spacingAndGlyphs">11.7%</text>
<text class="m" x="620.1" y="385.4" font-size="6.6" fill="#f00" textLength="17.9" lengthAdjust="spacingAndGlyphs">14.0%</text>
<text class="m" x="620.1" y="400.4" font-size="6.6" fill="#f00" textLength="14.3" lengthAdjust="spacingAndGlyphs">8.6%</text>
<text class="m" x="620.1" y="415.4" font-size="6.6" fill="#f00" textLength="14.3" lengthAdjust="spacingAndGlyphs">6.6%</text>
<text class="m" x="620.1" y="430.4" font-size="6.6" fill="#f00" textLength="14.3" lengthAdjust="spacingAndGlyphs">5.2%</text>
<text class="m" x="620.1" y="445.4" font-size="6.6" fill="#f00" textLength="14.3" lengthAdjust="spacingAndGlyphs">4.4%</text>
<text class="m" x="620.1" y="460.4" font-size="6.6" fill="#f00" textLength="14.3" lengthAdjust="spacingAndGlyphs">4.7%</text>
<text class="m" x="620.1" y="475.4" font-size="6.6" fill="#f00" textLength="17.9" lengthAdjust="spacingAndGlyphs">10.6%</text>
<rect x="605.4" y="300.2" width="9.6" height="180" fill="none" stroke="#222" stroke-width="0.8"/>
<g stroke-linecap="round">
<line x1="660" y1="522.1" x2="643" y2="516.9" stroke="#1c1" stroke-width="1.6"/>
<polygon points="639.5,515.9 645.5,513.7 644.4,519.3" fill="#1a1"/>
<line x1="660" y1="522.1" x2="660" y2="506.1" stroke="#00f" stroke-width="1.8"/>
<polygon points="660,501.1 657.3,507.1 662.7,507.1" fill="#00e"/>
<line x1="660" y1="522.1" x2="667.5" y2="514.6" stroke="#f00" stroke-width="1.8"/>
<polygon points="670,511.5 665.5,513.6 668.5,516.5" fill="#f00"/>
<circle cx="660" cy="522.1" r="1.3" fill="#dd0"/>
</g>
<text x="659.4" y="497.6" font-family="Liberation Sans" font-size="8.3" fill="#3344ee">Z</text>
<text x="672.6" y="508.7" font-family="Liberation Sans" font-size="8.3" fill="#ff6666">X</text>
<text x="634.4" y="514.9" font-family="Liberation Sans" font-size="8.3" fill="#66ee66">Y</text>
<text class="s" x="572.8" y="543.5" font-size="13.3" fill="#000">(<tspan font-weight="bold">f</tspan>)</text>
</svg></body></html>
